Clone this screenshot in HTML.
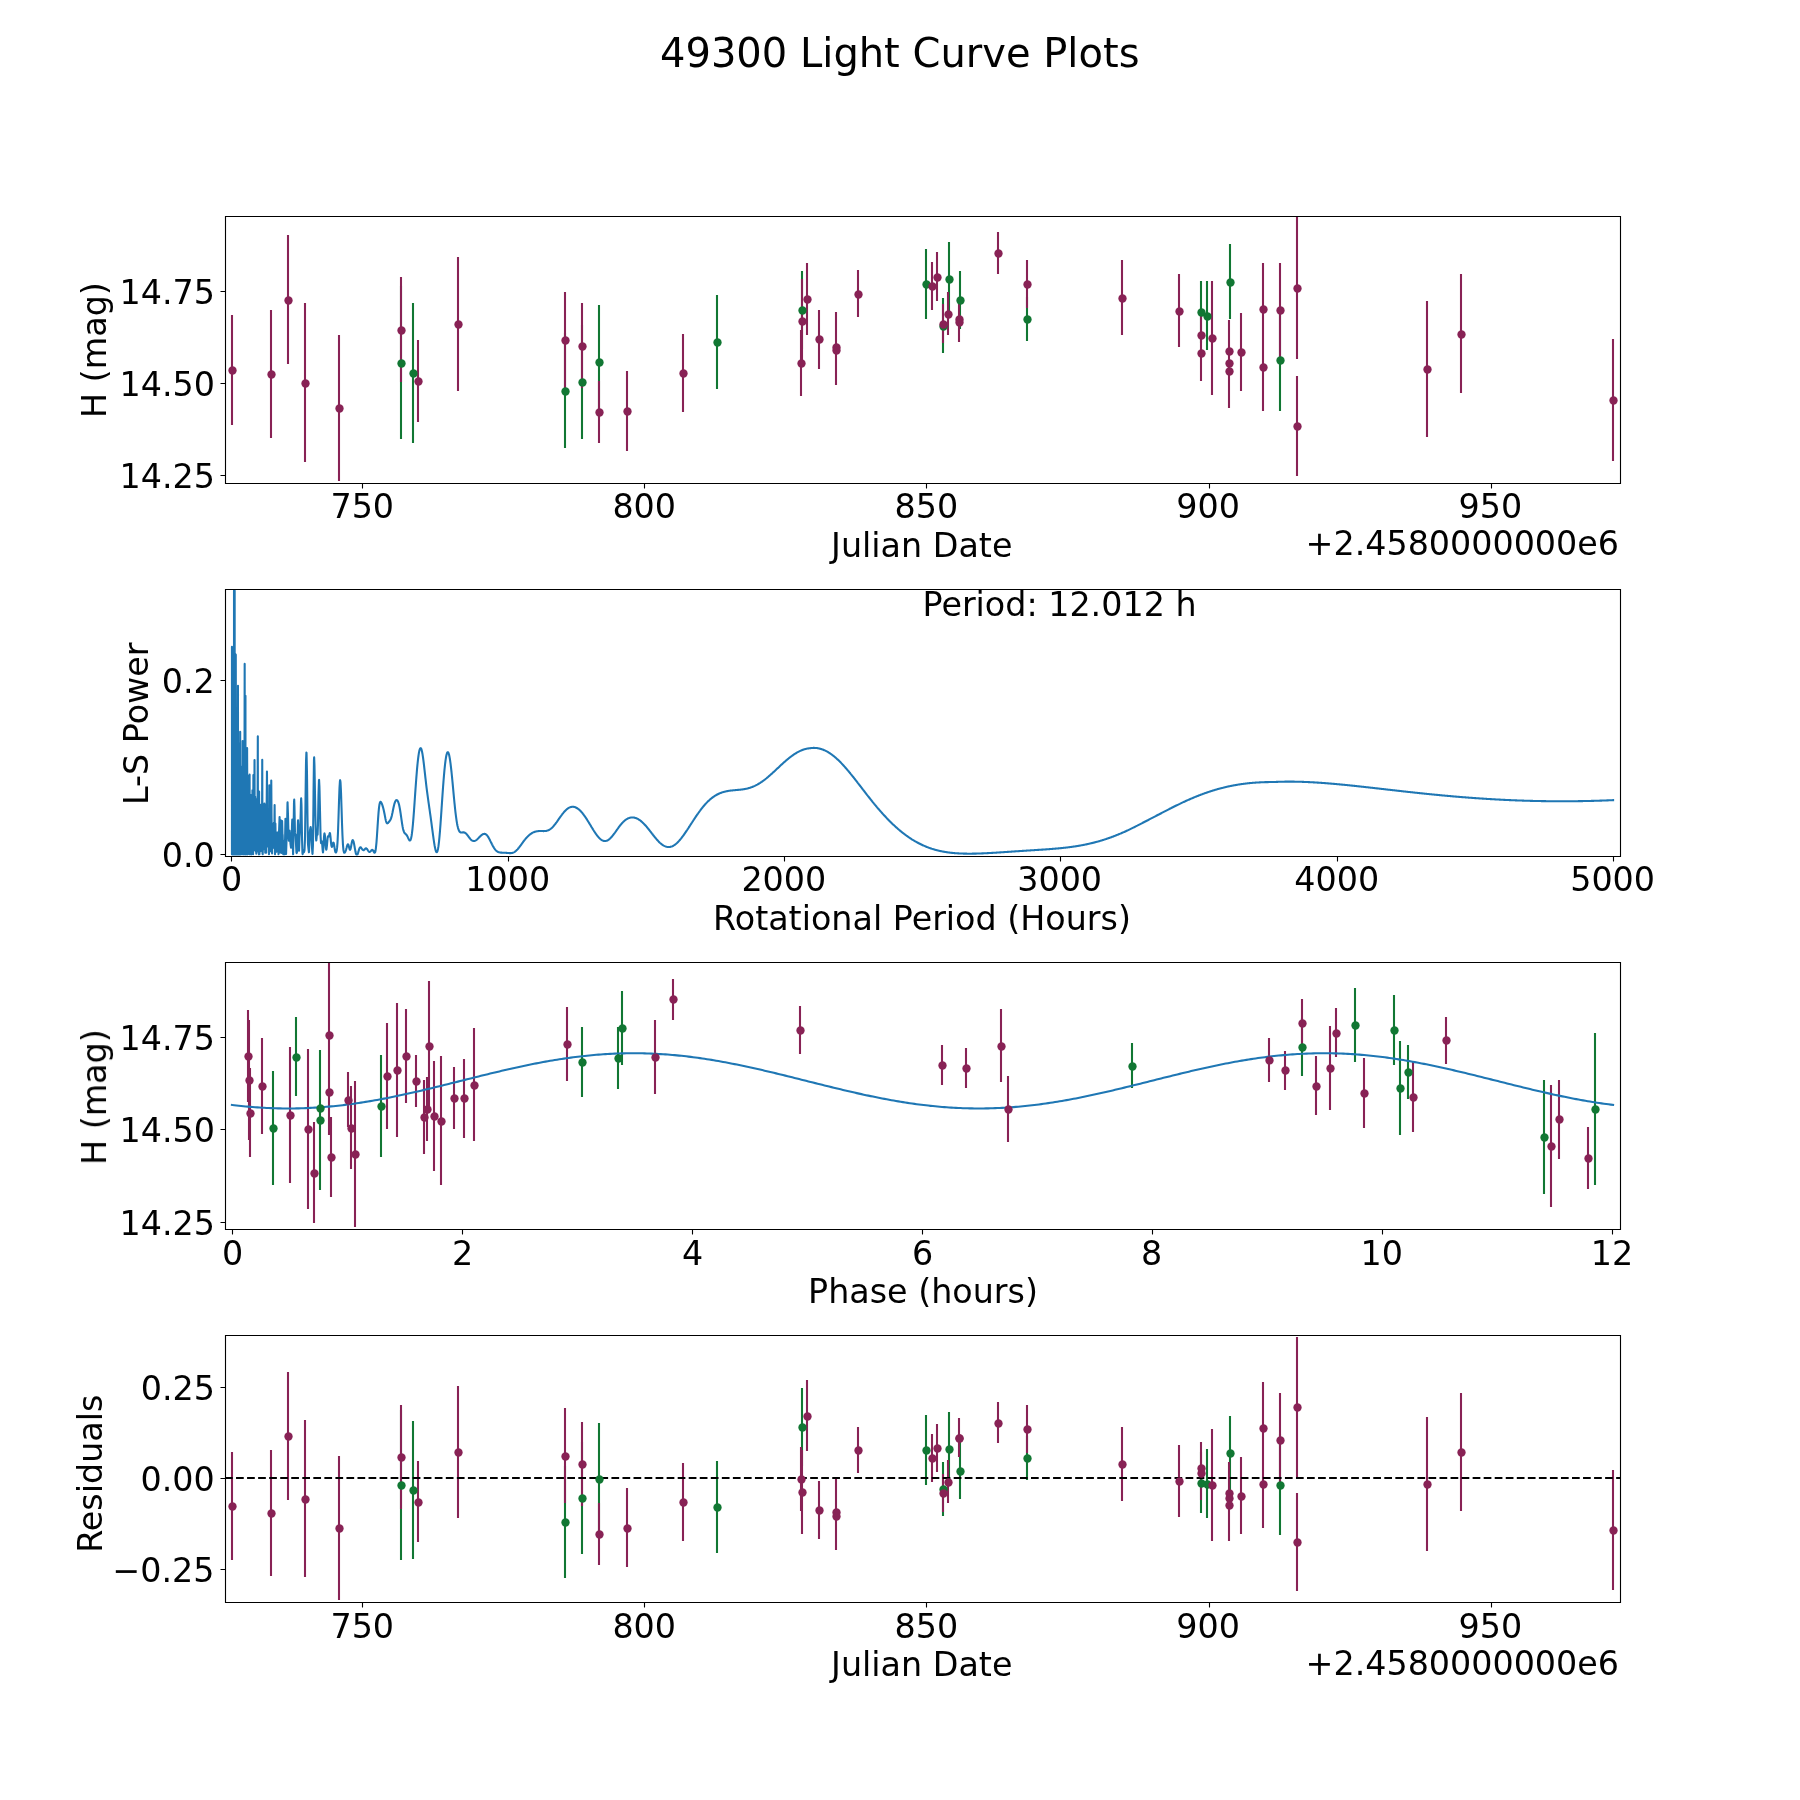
<!DOCTYPE html>
<html><head><meta charset="utf-8"><title>49300 Light Curve Plots</title>
<style>html,body{margin:0;padding:0;background:#fff;width:1800px;height:1800px;overflow:hidden}svg{display:block}</style>
</head><body>
<svg width="1800" height="1800" viewBox="0 0 1800 1800">
<style>text{font-family:"DejaVu Sans",sans-serif}</style>
<rect width="1800" height="1800" fill="#fff"/>
<defs><clipPath id="c0"><rect x="225" y="216" width="1395" height="267"/></clipPath><clipPath id="c1"><rect x="225" y="589" width="1395" height="267"/></clipPath><clipPath id="c2"><rect x="225" y="962" width="1395" height="267"/></clipPath><clipPath id="c3"><rect x="225" y="1335" width="1395" height="267"/></clipPath></defs>
<path d="M362.5 483.5V488.5M644.5 483.5V488.5M926.5 483.5V488.5M1209.5 483.5V488.5M1491.5 483.5V488.5M225.5 475.5H220.5M225.5 383.5H220.5M225.5 291.5H220.5" stroke="#000" stroke-width="1.111" fill="none"/>
<path d="M401 439V286M413 443V303M565 448V333M582 439V325M599 418V305M717 389V295M802 349V271M926 319V249M949 316V242M943 353V298M960 329V271M1027 341V297M1201 343V281M1207 350V281M1230 319V244M1280 411V308" stroke="#117733" stroke-width="2.083" fill="none" clip-path="url(#c0)"/>
<path d="M232 425V315M271 438V310M288 364V235M305 462V303M339 481V335M401 382V277M418 422V340M458 391V257M565 388V292M582 388V303M599 443V381M627 451V371M683 412V334M802 364V279M801 396V330M807 335V263M819 369V310M836 382V312M836 385V315M858 317V270M932 310V262M937 301V252M948 335V292M943 343V304M959 338V299M959 342V302M998 274V232M1027 308V260M1122 335V260M1179 347V274M1201 361V309M1201 381V326M1212 395V281M1229 382V320M1229 395V331M1229 408V334M1241 391V313M1263 356V263M1263 411V322M1280 357V263M1297 359V217M1297 476V376M1427 437V301M1461 393V274M1613 461V339" stroke="#882255" stroke-width="2.083" fill="none" clip-path="url(#c0)"/>
<g fill="#117733" clip-path="url(#c0)"><circle cx="401.5" cy="363.5" r="4.167"/><circle cx="413.5" cy="373.5" r="4.167"/><circle cx="565.5" cy="391.5" r="4.167"/><circle cx="582.5" cy="382.5" r="4.167"/><circle cx="599.5" cy="362.5" r="4.167"/><circle cx="717.5" cy="342.5" r="4.167"/><circle cx="802.5" cy="310.5" r="4.167"/><circle cx="926.5" cy="284.5" r="4.167"/><circle cx="949.5" cy="279.5" r="4.167"/><circle cx="943.5" cy="326.5" r="4.167"/><circle cx="960.5" cy="300.5" r="4.167"/><circle cx="1027.5" cy="319.5" r="4.167"/><circle cx="1201.5" cy="312.5" r="4.167"/><circle cx="1207.5" cy="316.5" r="4.167"/><circle cx="1230.5" cy="282.5" r="4.167"/><circle cx="1280.5" cy="360.5" r="4.167"/></g>
<g fill="#882255" clip-path="url(#c0)"><circle cx="232.5" cy="370.5" r="4.167"/><circle cx="271.5" cy="374.5" r="4.167"/><circle cx="288.5" cy="300.5" r="4.167"/><circle cx="305.5" cy="383.5" r="4.167"/><circle cx="339.5" cy="408.5" r="4.167"/><circle cx="401.5" cy="330.5" r="4.167"/><circle cx="418.5" cy="381.5" r="4.167"/><circle cx="458.5" cy="324.5" r="4.167"/><circle cx="565.5" cy="340.5" r="4.167"/><circle cx="582.5" cy="346.5" r="4.167"/><circle cx="599.5" cy="412.5" r="4.167"/><circle cx="627.5" cy="411.5" r="4.167"/><circle cx="683.5" cy="373.5" r="4.167"/><circle cx="802.5" cy="321.5" r="4.167"/><circle cx="801.5" cy="363.5" r="4.167"/><circle cx="807.5" cy="299.5" r="4.167"/><circle cx="819.5" cy="339.5" r="4.167"/><circle cx="836.5" cy="347.5" r="4.167"/><circle cx="836.5" cy="350.5" r="4.167"/><circle cx="858.5" cy="294.5" r="4.167"/><circle cx="932.5" cy="286.5" r="4.167"/><circle cx="937.5" cy="277.5" r="4.167"/><circle cx="948.5" cy="314.5" r="4.167"/><circle cx="943.5" cy="324.5" r="4.167"/><circle cx="959.5" cy="319.5" r="4.167"/><circle cx="959.5" cy="322.5" r="4.167"/><circle cx="998.5" cy="253.5" r="4.167"/><circle cx="1027.5" cy="284.5" r="4.167"/><circle cx="1122.5" cy="298.5" r="4.167"/><circle cx="1179.5" cy="311.5" r="4.167"/><circle cx="1201.5" cy="335.5" r="4.167"/><circle cx="1201.5" cy="353.5" r="4.167"/><circle cx="1212.5" cy="338.5" r="4.167"/><circle cx="1229.5" cy="351.5" r="4.167"/><circle cx="1229.5" cy="363.5" r="4.167"/><circle cx="1229.5" cy="371.5" r="4.167"/><circle cx="1241.5" cy="352.5" r="4.167"/><circle cx="1263.5" cy="309.5" r="4.167"/><circle cx="1263.5" cy="367.5" r="4.167"/><circle cx="1280.5" cy="310.5" r="4.167"/><circle cx="1297.5" cy="288.5" r="4.167"/><circle cx="1297.5" cy="426.5" r="4.167"/><circle cx="1427.5" cy="369.5" r="4.167"/><circle cx="1461.5" cy="334.5" r="4.167"/><circle cx="1613.5" cy="400.5" r="4.167"/></g>
<path d="M225.5 483.5V216.5M1620.5 483.5V216.5M225.5 483.5H1620.5M225.5 216.5H1620.5" stroke="#000" stroke-width="1.111" stroke-linecap="square" fill="none"/>
<path d="M231.5 856.5V861.5M508.5 856.5V861.5M784.5 856.5V861.5M1060.5 856.5V861.5M1337.5 856.5V861.5M1613.5 856.5V861.5M225.5 854.5H220.5M225.5 680.5H220.5" stroke="#000" stroke-width="1.111" fill="none"/>
<path d="M231.91 831.45 231.94 854.37 231.94 646.87 232 848.68 232 846.91 232.01 682.59 232.14 854.37 232.5 808.46 232.5 808.65 232.7 854.37 232.78 677.18 233 844.15 233 845.44 233.45 650.05 233.48 854.36 233.5 853.41 233.5 851.88 233.81 854.37 233.84 659.45 234 823.73 234 824.74 234.01 590.47 234.14 854.37 234.5 854.29 234.5 854.07 234.67 590.47 234.68 854.34 235 845.58 235 846.55 235.01 721.91 235.02 854.35 235.5 833.72 235.5 829.4 235.61 854.36 235.78 654.66 236 806.35 236 800.16 236.31 854.34 236.4 713.7 236.5 847.18 236.5 846.42 236.64 720.59 236.78 854.37 237 836.19 237 835.54 237.1 733.29 237.15 854.36 237.5 804.4 237.5 803.76 237.77 854.37 237.99 685.72 238 814.89 238 820.33 238.18 743.11 238.36 854.37 238.5 845.43 238.5 845.67 238.78 753.96 238.8 854.37 239 849.08 239 848.27 239.03 762.02 239.24 854.36 239.5 832.36 239.5 827.87 239.52 755.8 239.92 854.34 240 848.66 240 850.83 240.18 731.85 240.36 854.35 240.5 853.28 240.5 852.8 240.85 780.45 240.93 854.26 241 787.65 241 785.33 241.34 854.03 241.49 767.17 241.5 789.58 241.5 797.86 241.69 854.21 241.79 778.25 242 832.06 242 835.01 242.29 766.31 242.36 853.95 242.5 824.64 242.5 830.06 242.61 740.92 242.93 854.25 243 804.93 243 803.69 243.15 781.24 243.32 854.35 243.5 820.86 243.5 816.53 243.73 793.2 243.8 853.76 244 830.73 244 831.98 244.38 853.82 244.5 772.12 244.5 765.44 244.67 663.88 244.85 854.21 245 849.81 245 850.95 245.08 854.36 245.46 695.85 245.5 815.66 245.5 826.24 245.59 748.96 245.93 854.37 246 850.48 246 851.24 246.43 818.02 246.49 854.23 246.5 853.3 246.5 852.88 246.54 854.26 246.95 787.39 247 845.63 247 846.53 247.11 748.1 247.5 854.36 247.5 853.97 247.69 803.37 248 852.02 248 851.56 248.26 775.95 248.5 823.51 248.5 823.05 248.82 853.43 248.89 822.74 249 851.91 249 851.99 249.2 816.23 249.34 854.31 249.5 852.41 249.5 852.01 249.6 774.59 249.77 854.29 250 838.52 250 839.27 250.09 853.77 250.43 794.86 250.5 850.05 250.51 852.61 250.52 854.3 250.59 824.79 251 846.53 251 842.66 251.16 809.53 251.48 854.36 251.49 852.74 251.5 850.68 251.86 807.11 252 827.91 252 827.01 252.2 849.71 252.43 790.23 252.5 824.11 252.5 826.28 252.79 809.4 253 838.68 253.01 839.8 253.08 854.28 253.4 775.06 253.5 820.87 253.51 824.4 253.66 849.81 253.87 780.31 254 825.91 254 827.01 254.32 847.14 254.49 768.71 254.5 764.55 254.53 759.96 254.74 849.97 255 831.32 255.01 832.35 255.2 796.81 255.39 849.21 255.5 835.96 255.51 834.88 255.65 851.53 255.93 815.99 256 837.91 256.01 841.69 256.17 840.98 256.28 853.83 256.49 845.95 256.5 844.66 256.71 799.07 256.99 847.62 257 848.28 257.16 804.87 257.34 851.57 257.5 828.68 257.51 824.6 257.82 736.35 257.94 850.68 257.99 836.27 258 829.74 258.09 801.17 258.39 851.84 258.49 824.66 258.5 820.66 258.85 854.34 259 810.02 259.01 805.42 259.08 791.59 259.43 854.25 259.49 851.16 259.5 850.25 259.99 829.83 260 825.4 260.09 808.14 260.49 851.33 260.51 850.84 260.66 829.96 260.99 833.8 261 830.44 261.13 804.53 261.4 840.76 261.49 835.23 261.5 833.44 261.67 815.54 261.92 843.16 261.99 838.55 262 836.25 262.24 759.82 262.49 852.23 262.51 853.44 262.71 854.2 262.92 844.37 263 847.21 263.01 848.05 263.06 849.25 263.46 820.42 263.49 821 263.5 821.88 263.71 846.4 263.98 816.82 263.99 816.97 264.01 817.44 264.17 825.28 264.45 803.42 264.5 806.73 264.52 809.46 264.7 849.43 264.95 804.87 264.99 806.56 265 808.48 265.24 852.7 265.49 832.76 265.51 832.41 265.52 832.36 265.99 840.91 266.01 841.73 266.22 852.68 266.48 828.29 266.5 825.96 266.95 771.58 266.99 773.8 267.01 777.01 267.28 846.52 267.5 826.66 267.52 826.35 267.66 832.68 267.9 813.95 268 819.09 268.02 820.23 268.49 839.1 268.51 838.84 268.7 829.15 268.97 854.13 268.99 853.66 269.02 852.19 269.34 785.4 269.49 797.39 269.51 799.29 269.98 849.22 270 850.93 270.03 851.57 270.37 806.47 270.48 815.26 270.51 818.76 270.71 841.78 271 812.31 271.02 808.4 271.26 780.61 271.48 809.4 271.5 814.09 271.99 849.14 272.02 851.36 272.07 853.49 272.47 827.57 272.5 828 272.52 828.85 272.73 837.58 272.99 834.76 273.01 835.33 273.15 838.59 273.49 823.62 273.52 823.87 273.68 828.54 273.9 822.76 273.98 826.41 274.01 828.78 274.25 848.32 274.48 819.73 274.5 814.91 274.62 805.12 274.99 854.18 275.02 854.12 275.39 823.58 275.48 827.66 275.51 830.02 275.72 842.23 275.99 832.98 276.02 832.38 276.05 832.17 276.47 851.29 276.5 851.69 276.53 851.76 277 840.04 277.03 839.82 277.09 839.71 277.48 845.73 277.51 845.8 277.99 832.4 278.03 832.61 278.49 854.27 278.53 853.79 279 832.48 279.03 832.14 279.48 819.74 279.52 818.37 279.59 817.04 279.98 841.86 280.01 845.12 280.16 852.37 280.48 827.54 280.52 824.6 280.63 820.09 281 842.16 281.03 843.87 281.48 853.06 281.52 852.93 281.98 824.29 282.02 822.43 282.1 821.14 282.49 835.09 282.53 835.19 282.65 834.78 282.97 845.38 283.01 847.35 283.25 854.32 283.49 848.98 283.54 847.25 283.78 840.83 283.99 845.21 284.03 846.64 284.5 854.18 284.54 854.23 284.58 854.25 284.97 845.86 285.01 843.18 285.45 818.71 285.49 819.18 285.54 820.47 285.99 852.23 286.03 853.5 286.08 854.04 286.49 841.56 286.53 839.81 286.99 828.92 287.04 827.41 287.46 804.22 287.51 802.98 287.56 802.39 287.99 814.83 288.04 816.82 288.48 835.04 288.53 836.58 288.83 840.77 288.98 839.74 289.03 839.04 289.48 831.2 289.53 830.88 289.58 830.76 289.99 836.3 290.05 837.39 290.47 843.7 290.52 844.2 291 847.53 291.05 847.66 291.1 847.72 291.48 844.86 291.54 843.74 291.98 826.69 292.03 824.46 292.26 819.65 292.48 822.83 292.54 824.87 292.99 851.41 293.05 853.38 293.11 854.31 293.45 839.19 293.51 834.61 293.98 803.66 294.04 801.68 294.22 799.58 294.46 806.49 294.52 809.63 294.94 830.83 295 832.38 295.25 834.64 295.5 834.52 295.56 834.8 296 843.56 296.06 845.29 296.44 852.16 296.5 852.6 296.7 853.09 296.96 852.13 297.02 851.52 297.48 840.16 297.54 837.45 297.94 822.14 298.01 820.85 298.08 820.23 298.48 832.51 298.55 836.31 298.96 850.81 299.03 850.66 299.45 839.93 299.52 838.01 299.94 831.16 300.01 830.43 300.44 822.2 300.51 819.67 300.95 802.26 301.02 800.3 301.17 798.4 301.46 804.38 301.54 807.87 301.99 835.8 302.06 839.96 302.44 852.65 302.52 853.57 302.67 854.16 302.98 852.52 303.05 851.97 303.44 850.66 303.52 850.78 304 852.11 304.08 852.1 304.48 850.28 304.56 849.46 304.96 839.55 305.05 835.63 305.46 804.69 305.54 797.26 305.96 765.63 306.04 761.33 306.38 752.58 306.46 752.61 306.55 753.57 306.98 772.73 307.07 779.2 307.5 817.14 307.59 824.12 307.94 842.62 308.03 844.73 308.47 848.69 308.56 849.45 308.92 852.28 309.02 851.93 309.47 839.97 309.56 837.15 309.94 830.69 310.03 830.03 310.5 827.39 310.59 827.06 310.69 827 310.97 829.13 311.07 830.58 311.45 837.99 311.55 839.87 311.94 846.85 312.04 848.51 312.43 853.68 312.53 854.03 312.93 845.82 313.03 840.22 313.44 803.17 313.54 792.27 313.95 760.86 314.05 758 314.15 757.27 314.47 765.3 314.57 770.28 314.99 793.75 315.1 799.62 315.41 816.23 315.52 821.29 315.95 836.92 316.06 839.04 316.27 840.55 316.49 838.93 316.6 837.46 316.93 833.55 317.04 833.11 317.49 834.76 317.6 834.4 317.94 825.43 318.05 819.79 318.39 799.98 318.51 793.9 318.97 780.1 319.08 779.91 319.43 786.5 319.55 790.53 319.9 805.87 320.02 811.62 320.5 832.93 320.62 836.76 320.98 842.78 321.1 843.17 321.47 841.95 321.59 841.43 321.71 841.15 321.96 841.72 322.08 842.67 322.46 847.56 322.58 849.37 322.96 852.36 323.09 852.02 323.47 847.07 323.6 844.63 323.98 837.62 324.11 835.85 324.37 833.69 324.5 833.37 324.9 835.3 325.03 836.75 325.43 842.33 325.56 844.23 325.97 848.59 326.24 849.72 326.51 849.21 326.92 845.89 327.06 844.33 327.47 839.53 327.61 838.2 327.89 836.44 328.32 836.07 328.74 836.47 329.03 835.92 329.47 833.93 329.76 832.98 330.05 833.36 330.49 836.81 330.64 838.45 330.94 841.84 331.09 843.36 331.39 845.7 331.84 846.92 332.15 846.39 332.46 845.24 332.61 844.58 332.92 843.38 333.23 842.65 333.55 842.7 333.86 843.64 334.02 844.42 334.34 846.4 334.5 847.48 334.98 850.44 335.15 851.18 335.47 852.17 335.8 852.52 336.13 852.3 336.46 851.48 336.63 850.81 336.96 848.69 337.13 847.15 337.47 842.81 337.64 839.89 337.98 832.43 338.15 827.91 338.5 817.58 338.67 812 338.85 806.35 339.02 800.8 339.45 789 339.51 787.56 339.96 780.94 340.02 780.54 340.15 780.18 340.47 781.86 340.53 782.63 340.98 791.51 341.04 793.11 341.49 806.55 341.53 807.82 342 822.74 342.06 824.64 342.44 834.82 342.51 836.29 342.95 844.57 343.01 845.47 343.46 850.04 343.52 850.47 343.97 852.36 344.29 852.8 344.8 852.61 345.05 852.26 345.5 851.33 345.56 851.16 345.95 850.05 346.01 849.85 346.45 848.26 346.52 848.02 346.96 846.36 347.03 846.14 347.47 844.83 347.79 844.35 348.05 844.32 348.49 845.12 348.56 845.31 348.94 846.74 349 847.01 349.45 848.77 349.51 848.98 349.96 849.85 350.02 849.88 350.47 849.26 350.53 849.07 350.98 847.09 351.04 846.75 351.49 844.18 351.55 843.82 352 841.64 352.06 841.4 352.44 840.38 352.76 840.14 353.02 840.33 353.46 841.38 353.53 841.59 353.97 843.45 354.04 843.76 354.48 846.15 354.54 846.51 354.99 849.09 355.05 849.45 355.44 851.52 355.5 851.84 355.95 853.72 356.26 854.37 356.77 854.37 357.28 854.37 357.54 854.34 357.98 853.11 358.05 852.91 358.49 851.4 358.56 851.18 358.94 849.9 359 849.69 359.45 848.46 359.51 848.31 359.96 847.54 360.28 847.28 360.79 847.32 361.04 847.53 361.49 848.09 361.55 848.19 362 848.89 362.06 848.99 362.44 849.55 362.76 849.91 363.27 850.2 363.78 850.12 364.29 849.72 364.8 849.17 365.25 848.72 365.76 848.41 366.27 848.41 366.78 848.75 367.03 849.03 367.48 849.64 367.54 849.74 367.99 850.43 368.05 850.53 368.5 851.17 368.75 851.48 369.26 851.87 369.77 851.92 370.28 851.62 370.53 851.36 370.98 850.82 371.04 850.74 371.49 850.21 371.81 849.94 372.25 849.81 372.76 850.12 373.02 850.45 373.46 851.24 373.53 851.36 373.97 852.21 374.29 852.67 374.8 852.77 375.06 852.39 375.44 851.09 375.5 850.78 375.95 847.78 376.01 847.23 376.46 842.58 376.52 841.8 376.97 835.74 377.03 834.8 377.48 827.93 377.54 826.93 377.99 820.08 378.05 819.15 378.5 813.13 378.56 812.36 378.94 808.32 379.01 807.74 379.45 804.52 379.52 804.18 379.96 802.46 380.28 801.9 380.79 801.89 381.04 802.18 381.49 802.98 381.55 803.12 381.94 804.03 382 804.2 382.45 805.44 382.51 805.63 382.96 807.07 383.02 807.29 383.47 808.98 383.53 809.25 383.97 811.22 384.04 811.52 384.48 813.75 384.55 814.08 384.99 816.4 385.06 816.73 385.44 818.64 385.5 818.95 385.95 820.85 386.01 821.08 386.46 822.41 386.52 822.56 386.97 823.22 387.29 823.36 387.8 823.14 388.05 822.89 388.5 822.37 388.75 822.05 389.01 821.74 389.45 821.21 389.52 821.13 389.96 820.55 390.03 820.46 390.47 819.71 390.54 819.58 390.98 818.52 391.05 818.34 391.49 816.91 391.56 816.67 391.94 815.14 392 814.86 392.45 812.8 392.51 812.49 392.96 810.28 393.02 809.96 393.47 807.78 393.53 807.49 393.98 805.51 394.04 805.25 394.49 803.59 394.55 803.38 395 802.09 395.06 801.93 395.44 801.12 395.5 801.01 395.95 800.41 396.27 800.17 396.78 800.09 397.29 800.39 397.54 800.69 397.99 801.46 398.05 801.6 398.5 802.76 398.56 802.96 398.94 804.31 399.01 804.56 399.45 806.55 399.52 806.87 399.96 809.3 400.03 809.68 400.47 812.49 400.54 812.92 400.98 815.98 401.05 816.43 401.49 819.58 401.56 820.02 401.94 822.62 402 823.04 402.45 825.78 402.51 826.14 402.96 828.43 403.02 828.72 403.47 830.49 403.53 830.71 403.98 831.96 404.04 832.1 404.49 832.92 404.81 833.33 405.25 833.74 405.76 834.14 406.27 834.61 406.53 834.9 406.97 835.56 407.03 835.67 407.48 836.51 407.54 836.64 407.99 837.61 408.05 837.76 408.44 838.61 408.5 838.74 408.95 839.62 409.01 839.73 409.46 840.33 409.77 840.53 410.28 840.33 410.54 839.94 410.98 838.71 411.05 838.48 411.49 836.37 411.56 836.01 411.94 833.46 412 832.97 412.45 829.12 412.51 828.51 412.96 823.8 413.02 823.07 413.47 817.63 413.53 816.81 413.98 810.84 414.04 809.96 414.49 803.65 414.55 802.73 415 796.3 415.06 795.38 415.44 789.91 415.51 789.01 415.95 782.82 416.02 781.96 416.46 776.12 416.53 775.32 416.97 769.94 417.04 769.21 417.48 764.39 417.55 763.75 417.99 759.57 418.06 759.02 418.44 756 418.5 755.54 418.95 752.7 419.01 752.35 419.46 750.27 419.52 750.03 419.97 748.74 420.28 748.24 420.79 748.16 421.05 748.46 421.49 749.5 421.56 749.7 421.94 751.17 422 751.46 422.45 753.78 422.51 754.16 422.96 757.06 423.02 757.51 423.47 760.87 423.53 761.38 423.98 765.08 424.04 765.62 424.49 769.52 424.55 770.09 425 774.07 425.06 774.64 425.44 778.04 425.51 778.6 425.95 782.48 426.02 783.03 426.46 786.76 426.53 787.28 426.97 790.84 427.04 791.34 427.48 794.74 427.55 795.21 427.99 798.47 428.06 798.93 428.44 801.65 428.5 802.1 428.95 805.21 429.01 805.66 429.46 808.76 429.52 809.21 429.97 812.34 430.03 812.79 430.48 815.97 430.54 816.43 430.99 819.68 431.05 820.15 431.5 823.46 431.56 823.94 431.94 826.81 432.01 827.3 432.45 830.66 432.52 831.14 432.96 834.46 433.02 834.93 433.47 838.15 433.53 838.6 433.98 841.65 434.04 842.06 434.49 844.83 434.55 845.21 434.94 847.29 435 847.61 435.45 849.59 435.51 849.83 435.96 851.24 436.02 851.39 436.46 852.11 436.78 852.2 437.04 852 437.48 851.04 437.55 850.84 437.99 848.95 438.06 848.61 438.44 846.23 438.5 845.77 438.95 842.12 439.01 841.53 439.46 837.01 439.52 836.31 439.97 831.04 440.03 830.24 440.48 824.36 440.54 823.49 440.99 817.17 441.05 816.25 441.5 809.69 441.56 808.74 441.94 803.06 442.01 802.12 442.45 795.58 442.52 794.66 442.96 788.36 443.03 787.49 443.47 781.56 443.54 780.75 443.98 775.3 444.05 774.56 444.49 769.68 444.55 769.03 444.94 765.34 445 764.76 445.45 761.09 445.51 760.61 445.96 757.64 446.02 757.27 446.47 755.02 446.53 754.75 446.98 753.25 447.04 753.08 447.49 752.32 447.8 752.18 448.06 752.3 448.44 752.87 448.5 753.01 448.95 754.33 449.01 754.57 449.46 756.57 449.52 756.9 449.97 759.51 450.03 759.93 450.48 763.1 450.54 763.59 450.99 767.26 451.05 767.82 451.5 771.9 451.56 772.51 451.94 776.27 452.01 776.91 452.45 781.52 452.52 782.19 452.96 786.95 453.03 787.63 453.47 792.42 453.54 793.11 453.98 797.83 454.05 798.5 454.49 803.06 454.56 803.7 454.94 807.4 455 808 455.45 812.02 455.51 812.57 455.96 816.21 456.02 816.7 456.47 819.9 456.53 820.32 456.98 823.07 457.04 823.43 457.49 825.71 457.55 826.01 458 827.84 458.06 828.07 458.44 829.31 458.51 829.49 458.95 830.58 459.02 830.71 459.46 831.47 459.78 831.86 460.29 832.26 460.8 832.46 461.24 832.52 461.75 832.49 462.26 832.43 462.77 832.36 463.28 832.33 463.79 832.37 464.3 832.49 464.75 832.66 465.26 832.96 465.77 833.35 466.28 833.82 466.79 834.37 467.04 834.67 467.49 835.23 467.55 835.31 468 835.9 468.25 836.25 468.51 836.59 468.95 837.2 469.02 837.28 469.46 837.88 469.53 837.96 469.97 838.52 470.29 838.9 470.8 839.45 471.25 839.88 471.76 840.29 472.27 840.62 472.77 840.85 473.28 840.99 473.79 841.04 474.3 841 474.75 840.89 475.26 840.7 475.77 840.43 476.28 840.1 476.79 839.71 477.3 839.28 477.81 838.8 478.25 838.37 478.76 837.85 479.27 837.33 479.78 836.8 480.29 836.29 480.8 835.79 481.25 835.39 481.76 834.96 482.27 834.59 482.78 834.29 483.29 834.05 483.79 833.91 484.3 833.85 484.75 833.88 485.26 834.02 485.77 834.27 486.28 834.63 486.79 835.11 487.04 835.39 487.49 835.94 487.55 836.02 487.94 836.57 488 836.66 488.45 837.37 488.51 837.48 488.95 838.26 489.02 838.37 489.46 839.21 489.53 839.33 489.97 840.21 490.04 840.34 490.48 841.24 490.55 841.37 490.99 842.29 491.06 842.42 491.44 843.21 491.5 843.34 491.95 844.23 492.01 844.36 492.46 845.23 492.52 845.35 492.97 846.18 493.03 846.29 493.48 847.07 493.54 847.18 493.99 847.89 494.05 847.99 494.5 848.65 494.75 849 495.01 849.33 495.45 849.86 495.77 850.21 496.28 850.7 496.79 851.12 497.3 851.48 497.75 851.74 498.26 851.98 498.76 852.18 499.27 852.34 499.78 852.45 500.29 852.54 500.8 852.6 501.25 852.63 501.76 852.66 502.27 852.68 502.78 852.69 503.29 852.7 503.8 852.71 504.31 852.72 504.75 852.74 505.26 852.77 505.77 852.8 506.28 852.84 506.79 852.88 507.3 852.93 507.75 852.98 508.26 853.03 508.77 853.07 509.28 853.11 509.79 853.13 510.29 853.14 510.8 853.13 511.25 853.09 511.76 853.02 512.27 852.92 512.78 852.78 513.29 852.59 513.8 852.36 514.31 852.09 514.75 851.81 515.26 851.45 515.77 851.05 516.28 850.6 516.79 850.1 517.3 849.57 517.75 849.08 518 848.78 518.45 848.25 518.51 848.17 518.96 847.61 519.02 847.53 519.47 846.96 519.53 846.87 519.98 846.28 520.04 846.2 520.49 845.59 520.55 845.51 521 844.89 521.06 844.81 521.44 844.28 521.51 844.19 521.95 843.57 522.02 843.48 522.46 842.87 522.53 842.78 522.97 842.17 523.04 842.09 523.48 841.49 523.54 841.4 523.99 840.81 524.25 840.48 524.5 840.15 524.95 839.59 525.01 839.51 525.46 838.96 525.52 838.88 525.97 838.36 526.28 837.99 526.79 837.42 527.3 836.88 527.75 836.43 528.26 835.93 528.77 835.46 529.28 835.02 529.79 834.6 530.3 834.21 530.81 833.85 531.25 833.55 531.76 833.24 532.27 832.94 532.78 832.67 533.29 832.43 533.8 832.2 534.25 832.03 534.76 831.84 535.27 831.68 535.78 831.54 536.28 831.42 536.79 831.32 537.3 831.23 537.75 831.17 538.26 831.11 538.77 831.08 539.28 831.05 539.79 831.04 540.3 831.03 540.81 831.04 541.25 831.04 541.76 831.06 542.27 831.07 542.78 831.08 543.29 831.09 543.8 831.09 544.25 831.08 544.76 831.05 545.27 831.01 545.78 830.95 546.29 830.86 546.8 830.75 547.31 830.61 547.75 830.46 548.26 830.26 548.77 830.03 549.28 829.76 549.79 829.45 550.3 829.11 550.75 828.78 551.25 828.37 551.76 827.92 552.27 827.44 552.78 826.93 553.29 826.38 553.8 825.8 554.25 825.27 554.5 824.96 554.95 824.4 555.01 824.32 555.46 823.74 555.52 823.66 555.97 823.06 556.03 822.98 556.48 822.37 556.54 822.28 556.99 821.66 557.05 821.57 557.5 820.93 557.56 820.84 557.94 820.3 558.01 820.2 558.45 819.56 558.52 819.47 558.96 818.82 559.03 818.73 559.47 818.09 559.54 818 559.98 817.36 560.05 817.27 560.49 816.63 560.56 816.54 560.94 816.01 561 815.92 561.45 815.31 561.51 815.22 561.96 814.62 562.02 814.53 562.47 813.95 562.53 813.87 562.98 813.3 563.04 813.22 563.49 812.67 563.55 812.59 564 812.07 564.25 811.77 564.76 811.21 565.27 810.68 565.78 810.17 566.29 809.7 566.8 809.26 567.31 808.85 567.75 808.53 568.26 808.19 568.77 807.88 569.28 807.62 569.79 807.39 570.3 807.19 570.75 807.06 571.26 806.93 571.77 806.85 572.28 806.8 572.79 806.79 573.3 806.82 573.81 806.88 574.25 806.97 574.76 807.1 575.27 807.27 575.78 807.48 576.29 807.72 576.8 807.99 577.24 808.26 577.75 808.6 578.26 808.97 578.77 809.37 579.28 809.81 579.79 810.27 580.3 810.77 580.75 811.23 581.26 811.78 581.77 812.36 582.02 812.66 582.47 813.2 582.53 813.27 582.98 813.83 583.04 813.92 583.49 814.5 583.55 814.58 584 815.18 584.06 815.27 584.44 815.8 584.51 815.89 584.95 816.52 585.02 816.62 585.46 817.27 585.53 817.36 585.97 818.03 586.04 818.12 586.48 818.81 586.55 818.9 586.99 819.6 587.06 819.7 587.44 820.3 587.5 820.4 587.95 821.11 588.01 821.22 588.46 821.94 588.52 822.04 588.97 822.77 589.03 822.87 589.48 823.61 589.54 823.71 589.99 824.45 590.05 824.55 590.49 825.29 590.56 825.4 590.94 826.03 591 826.13 591.45 826.87 591.51 826.98 591.96 827.71 592.02 827.81 592.47 828.54 592.53 828.64 592.98 829.37 593.04 829.47 593.49 830.18 593.55 830.28 594 830.98 594.06 831.08 594.44 831.67 594.51 831.77 594.95 832.44 595.02 832.54 595.46 833.2 595.53 833.29 595.97 833.93 596.04 834.02 596.48 834.64 596.55 834.72 596.99 835.32 597.25 835.65 597.5 835.97 597.95 836.52 598.27 836.89 598.78 837.47 599.29 838 599.8 838.5 600.3 838.96 600.75 839.33 601.26 839.7 601.77 840.04 602.28 840.32 602.79 840.56 603.3 840.75 603.74 840.88 604.25 840.97 604.76 841.01 605.27 841.01 605.78 840.95 606.29 840.84 606.8 840.67 607.25 840.49 607.76 840.24 608.27 839.93 608.78 839.58 609.29 839.19 609.8 838.75 610.31 838.28 610.75 837.83 611.26 837.29 611.77 836.71 612.03 836.41 612.47 835.87 612.54 835.79 612.98 835.23 613.05 835.15 613.49 834.57 613.75 834.23 614 833.89 614.45 833.28 614.51 833.19 614.96 832.58 615.02 832.49 615.47 831.86 615.53 831.77 615.98 831.14 616.04 831.05 616.49 830.42 616.55 830.33 616.99 829.7 617.06 829.61 617.44 829.08 617.5 828.99 617.95 828.37 618.01 828.28 618.46 827.66 618.52 827.58 618.97 826.97 619.03 826.89 619.48 826.3 619.54 826.22 619.99 825.64 620.05 825.56 620.5 825 620.75 824.69 621.01 824.38 621.45 823.85 621.77 823.49 622.28 822.92 622.79 822.38 623.3 821.87 623.75 821.44 624.26 820.97 624.77 820.54 625.28 820.13 625.79 819.75 626.3 819.4 626.8 819.08 627.25 818.82 627.76 818.55 628.27 818.31 628.78 818.11 629.29 817.93 629.8 817.77 630.24 817.66 630.75 817.57 631.26 817.5 631.77 817.45 632.28 817.44 632.79 817.45 633.3 817.49 633.75 817.55 634.26 817.64 634.77 817.75 635.28 817.89 635.79 818.06 636.3 818.25 636.81 818.46 637.25 818.67 637.76 818.93 638.27 819.21 638.78 819.52 639.29 819.85 639.8 820.2 640.25 820.53 640.76 820.92 641.26 821.34 641.77 821.77 642.28 822.22 642.79 822.69 643.3 823.18 643.75 823.63 644.26 824.15 644.77 824.69 645.28 825.24 645.79 825.81 646.3 826.4 646.55 826.7 647 827.23 647.25 827.54 647.51 827.85 647.95 828.4 648.02 828.48 648.46 829.03 648.53 829.11 648.97 829.68 649.04 829.76 649.48 830.32 649.55 830.4 649.99 830.98 650.25 831.3 650.5 831.63 650.95 832.21 651.01 832.29 651.46 832.87 651.52 832.95 651.97 833.53 652.03 833.61 652.48 834.18 652.54 834.27 652.99 834.84 653.05 834.92 653.5 835.49 653.75 835.81 654.01 836.13 654.45 836.69 654.51 836.77 654.96 837.32 655.02 837.4 655.47 837.94 655.53 838.02 655.98 838.55 656.3 838.93 656.74 839.45 657.25 840.02 657.76 840.59 658.27 841.13 658.78 841.66 659.29 842.17 659.8 842.66 660.25 843.07 660.76 843.51 661.27 843.94 661.78 844.34 662.29 844.72 662.8 845.06 663.31 845.39 663.75 845.65 664.26 845.92 664.77 846.16 665.28 846.38 665.79 846.56 666.3 846.71 666.75 846.82 667.26 846.92 667.76 846.99 668.27 847.02 668.78 847.03 669.29 847 669.8 846.94 670.25 846.87 670.76 846.75 671.27 846.61 671.78 846.43 672.29 846.23 672.8 845.99 673.31 845.73 673.75 845.47 674.26 845.15 674.77 844.79 675.28 844.42 675.79 844.01 676.3 843.58 676.75 843.18 677.26 842.71 677.77 842.21 678.28 841.69 678.79 841.15 679.29 840.58 679.8 840 680.25 839.47 680.51 839.17 680.95 838.62 681.01 838.54 681.46 837.98 681.52 837.9 681.97 837.32 682.03 837.24 682.48 836.65 682.54 836.57 682.99 835.97 683.24 835.62 683.5 835.27 683.94 834.65 684.01 834.56 684.45 833.92 684.52 833.83 684.96 833.19 685.03 833.1 685.47 832.45 685.54 832.36 685.98 831.7 686.05 831.61 686.49 830.94 686.56 830.85 686.94 830.28 687 830.18 687.45 829.51 687.51 829.41 687.96 828.73 688.02 828.63 688.47 827.95 688.53 827.85 688.98 827.17 689.04 827.07 689.49 826.38 689.55 826.29 690 825.6 690.06 825.5 690.44 824.91 690.51 824.81 690.95 824.12 691.02 824.02 691.46 823.33 691.53 823.23 691.97 822.54 692.03 822.44 692.48 821.75 692.54 821.65 692.99 820.97 693.05 820.87 693.44 820.28 693.5 820.19 693.95 819.51 694.01 819.41 694.46 818.73 694.52 818.64 694.97 817.96 695.03 817.87 695.47 817.2 695.54 817.1 695.98 816.44 696.05 816.35 696.49 815.69 696.56 815.6 696.94 815.04 697 814.95 697.45 814.3 697.51 814.21 697.96 813.57 698.02 813.48 698.47 812.85 698.53 812.76 698.98 812.14 699.04 812.05 699.49 811.44 699.55 811.35 700 810.75 700.25 810.4 700.51 810.06 700.95 809.48 701.02 809.39 701.46 808.81 701.53 808.73 701.97 808.16 702.04 808.08 702.48 807.52 702.55 807.44 702.99 806.89 703.25 806.58 703.5 806.28 703.95 805.75 704.27 805.38 704.78 804.79 705.28 804.22 705.79 803.66 706.3 803.11 706.75 802.64 707.26 802.12 707.77 801.61 708.28 801.12 708.79 800.63 709.3 800.16 709.74 799.76 710.25 799.32 710.76 798.89 711.27 798.47 711.78 798.06 712.29 797.67 712.8 797.29 713.25 796.97 713.76 796.62 714.27 796.27 714.78 795.94 715.29 795.62 715.8 795.32 716.31 795.02 716.75 794.78 717.26 794.5 717.77 794.24 718.28 793.99 718.79 793.75 719.3 793.52 719.75 793.33 720.25 793.12 720.76 792.92 721.27 792.73 721.78 792.55 722.29 792.38 722.8 792.22 723.25 792.08 723.76 791.93 724.27 791.79 724.78 791.66 725.29 791.53 725.8 791.42 726.31 791.3 726.75 791.21 727.26 791.11 727.77 791.01 728.28 790.92 728.79 790.84 729.3 790.77 729.75 790.71 730.26 790.64 730.77 790.58 731.28 790.52 731.78 790.47 732.29 790.41 732.8 790.36 733.25 790.32 733.76 790.27 734.27 790.22 734.78 790.18 735.29 790.13 735.8 790.08 736.24 790.04 736.75 790 737.26 789.95 737.77 789.9 738.28 789.86 738.79 789.81 739.3 789.77 739.75 789.73 740.26 789.67 740.77 789.62 741.28 789.56 741.79 789.5 742.3 789.44 742.81 789.37 743.25 789.3 743.76 789.22 744.27 789.14 744.78 789.05 745.29 788.95 745.8 788.85 746.24 788.76 746.75 788.64 747.26 788.52 747.77 788.4 748.28 788.26 748.79 788.12 749.3 787.97 749.75 787.84 750.26 787.67 750.77 787.5 751.28 787.32 751.79 787.14 752.3 786.94 752.81 786.74 753.25 786.56 753.76 786.34 754.27 786.11 754.78 785.88 755.29 785.63 755.8 785.38 756.25 785.15 756.76 784.88 757.27 784.61 757.77 784.32 758.28 784.03 758.79 783.73 759.3 783.42 759.75 783.14 760.26 782.82 760.77 782.48 761.28 782.14 761.79 781.8 762.3 781.44 762.74 781.12 763.25 780.75 763.76 780.38 764.27 779.99 764.78 779.6 765.29 779.21 765.8 778.8 766.25 778.45 766.76 778.03 767.27 777.61 767.78 777.19 768.29 776.76 768.8 776.32 769.3 775.88 769.75 775.49 770.26 775.05 770.77 774.59 771.28 774.14 771.79 773.68 772.3 773.22 772.74 772.81 773.25 772.34 773.76 771.87 774.27 771.4 774.78 770.93 775.29 770.45 775.8 769.97 776.25 769.56 776.76 769.08 777.27 768.6 777.78 768.12 778.29 767.64 778.8 767.17 779.31 766.69 779.75 766.27 780.26 765.8 780.77 765.32 781.28 764.85 781.79 764.38 782.3 763.92 782.75 763.51 783.26 763.05 783.77 762.59 784.27 762.13 784.78 761.68 785.29 761.23 785.8 760.79 786.25 760.41 786.76 759.97 787.27 759.54 787.78 759.12 788.29 758.7 788.8 758.28 789.31 757.88 789.75 757.52 790.26 757.13 790.77 756.74 791.28 756.35 791.79 755.98 792.3 755.61 792.75 755.29 793.26 754.93 793.77 754.58 794.28 754.24 794.79 753.91 795.3 753.58 795.8 753.27 796.25 753 796.76 752.7 797.27 752.4 797.78 752.12 798.29 751.85 798.8 751.58 799.24 751.36 799.75 751.11 800.26 750.87 800.77 750.64 801.28 750.42 801.79 750.21 802.3 750.01 802.75 749.84 803.26 749.66 803.77 749.49 804.28 749.33 804.79 749.18 805.3 749.03 805.81 748.9 806.25 748.8 806.76 748.69 807.27 748.59 807.78 748.5 808.29 748.42 808.8 748.35 809.25 748.3 809.76 748.25 810.26 748.19 810.77 748.12 811.28 748.05 811.79 748 812.3 747.96 812.75 747.93 813.26 747.91 813.77 747.9 814.28 747.9 814.79 747.92 815.3 747.94 815.81 747.98 816.25 748.01 816.76 748.07 817.27 748.14 817.78 748.22 818.29 748.3 818.8 748.4 819.25 748.5 819.76 748.62 820.27 748.75 820.78 748.9 821.29 749.05 821.79 749.22 822.3 749.39 822.75 749.55 823.26 749.75 823.77 749.96 824.28 750.18 824.79 750.4 825.3 750.64 825.74 750.86 826.25 751.12 826.76 751.39 827.27 751.67 827.78 751.96 828.29 752.26 828.8 752.58 829.25 752.86 829.76 753.19 830.27 753.53 830.78 753.88 831.29 754.24 831.8 754.61 832.31 754.99 832.75 755.32 833.26 755.72 833.77 756.13 834.28 756.54 834.79 756.97 835.3 757.4 835.75 757.79 836.26 758.23 836.76 758.69 837.27 759.16 837.78 759.63 838.29 760.11 838.8 760.6 839.25 761.04 839.76 761.54 840.27 762.06 840.78 762.57 841.29 763.1 841.8 763.63 842.31 764.17 842.75 764.65 843.26 765.2 843.77 765.76 844.28 766.33 844.79 766.9 845.3 767.47 845.75 767.98 846.26 768.57 846.77 769.16 847.28 769.75 847.53 770.05 847.98 770.58 848.04 770.66 848.49 771.19 848.55 771.27 849 771.8 849.25 772.11 849.5 772.42 849.95 772.96 850.01 773.04 850.46 773.58 850.52 773.66 850.97 774.21 851.03 774.29 851.48 774.84 851.54 774.92 851.99 775.47 852.24 775.79 852.5 776.11 852.94 776.67 853.01 776.75 853.45 777.31 853.52 777.39 853.96 777.96 854.03 778.04 854.47 778.6 854.54 778.69 854.98 779.25 855.05 779.34 855.49 779.91 855.75 780.23 856 780.56 856.45 781.13 856.51 781.21 856.96 781.79 857.02 781.87 857.47 782.45 857.53 782.53 857.98 783.1 858.04 783.19 858.49 783.76 858.55 783.85 859 784.42 859.25 784.75 859.51 785.09 859.95 785.66 860.02 785.75 860.46 786.33 860.53 786.41 860.97 786.99 861.03 787.07 861.48 787.65 861.54 787.73 861.99 788.31 862.25 788.64 862.5 788.98 862.95 789.55 863.01 789.64 863.46 790.22 863.52 790.3 863.97 790.88 864.03 790.96 864.47 791.54 864.54 791.62 864.98 792.2 865.05 792.28 865.49 792.85 865.75 793.18 866 793.51 866.45 794.08 866.51 794.17 866.96 794.74 867.02 794.82 867.47 795.39 867.53 795.47 867.98 796.04 868.04 796.12 868.49 796.69 868.55 796.77 869 797.34 869.25 797.66 869.51 797.99 869.95 798.55 870.02 798.63 870.46 799.19 870.53 799.27 870.97 799.83 871.04 799.91 871.48 800.47 871.55 800.55 871.99 801.1 872.25 801.42 872.5 801.74 872.95 802.29 873.01 802.37 873.46 802.91 873.52 802.99 873.97 803.54 874.03 803.62 874.48 804.16 874.54 804.24 874.99 804.78 875.05 804.86 875.5 805.4 875.75 805.7 876 806.01 876.45 806.54 876.51 806.62 876.96 807.15 877.02 807.23 877.47 807.75 877.53 807.83 877.98 808.35 878.3 808.73 878.74 809.25 879.25 809.84 879.76 810.43 880.27 811.02 880.78 811.6 881.29 812.17 881.8 812.75 882.25 813.25 882.76 813.82 883.27 814.38 883.78 814.94 884.29 815.49 884.8 816.05 885.31 816.59 885.75 817.07 886.26 817.61 886.77 818.15 887.28 818.68 887.79 819.21 888.3 819.73 888.75 820.19 889.25 820.7 889.76 821.22 890.27 821.73 890.78 822.23 891.29 822.73 891.8 823.23 892.25 823.66 892.76 824.14 893.27 824.63 893.78 825.11 894.29 825.58 894.8 826.05 895.31 826.52 895.75 826.92 896.26 827.38 896.77 827.83 897.28 828.28 897.79 828.73 898.3 829.17 898.75 829.55 899.26 829.99 899.77 830.41 900.27 830.84 900.78 831.26 901.29 831.67 901.8 832.08 902.25 832.44 902.76 832.84 903.27 833.24 903.78 833.63 904.29 834.02 904.8 834.41 905.24 834.74 905.75 835.12 906.26 835.49 906.77 835.86 907.28 836.22 907.79 836.58 908.3 836.93 908.75 837.24 909.26 837.59 909.77 837.93 910.28 838.27 910.79 838.6 911.3 838.93 911.8 839.26 912.25 839.54 912.76 839.85 913.27 840.17 913.78 840.47 914.29 840.78 914.8 841.08 915.24 841.34 915.75 841.63 916.26 841.91 916.77 842.2 917.28 842.48 917.79 842.75 918.3 843.02 918.75 843.25 919.26 843.52 919.77 843.78 920.28 844.03 920.79 844.28 921.3 844.53 921.81 844.77 922.25 844.98 922.76 845.21 923.27 845.44 923.78 845.67 924.29 845.89 924.8 846.11 925.25 846.3 925.76 846.51 926.27 846.72 926.77 846.92 927.28 847.12 927.79 847.31 928.3 847.51 928.75 847.67 929.26 847.86 929.77 848.04 930.28 848.22 930.79 848.39 931.3 848.56 931.74 848.71 932.25 848.87 932.76 849.03 933.27 849.19 933.78 849.34 934.29 849.49 934.8 849.64 935.25 849.76 935.76 849.9 936.27 850.04 936.78 850.18 937.29 850.31 937.8 850.43 938.3 850.56 938.75 850.67 939.26 850.78 939.77 850.9 940.28 851.01 940.79 851.12 941.3 851.23 941.74 851.32 942.25 851.42 942.76 851.52 943.27 851.62 943.78 851.71 944.29 851.8 944.8 851.89 945.25 851.96 945.76 852.05 946.27 852.13 946.78 852.2 947.29 852.28 947.8 852.35 948.31 852.42 948.75 852.48 949.26 852.55 949.77 852.61 950.28 852.68 950.79 852.73 951.3 852.79 951.75 852.84 952.26 852.89 952.76 852.95 953.27 852.99 953.78 853.04 954.29 853.09 954.8 853.13 955.25 853.17 955.76 853.21 956.27 853.24 956.78 853.28 957.29 853.31 957.8 853.35 958.24 853.37 958.75 853.4 959.26 853.43 959.77 853.46 960.28 853.48 960.79 853.5 961.3 853.53 961.75 853.54 962.26 853.56 962.77 853.58 963.28 853.59 963.79 853.61 964.29 853.62 964.8 853.63 965.25 853.64 965.76 853.65 966.27 853.66 966.78 853.66 967.29 853.67 967.8 853.67 968.24 853.68 968.75 853.68 969.26 853.68 969.77 853.68 970.28 853.68 970.79 853.68 971.3 853.67 971.75 853.67 972.26 853.66 972.77 853.66 973.28 853.65 973.79 853.64 974.3 853.63 974.81 853.62 975.25 853.61 975.76 853.6 976.27 853.59 976.78 853.58 977.29 853.56 977.8 853.55 978.25 853.53 978.76 853.52 979.26 853.5 979.77 853.48 980.28 853.47 980.79 853.45 981.3 853.43 981.75 853.41 982.26 853.39 982.77 853.37 983.28 853.35 983.79 853.32 984.3 853.3 984.74 853.28 985.25 853.26 985.76 853.23 986.27 853.21 986.78 853.18 987.29 853.15 987.8 853.13 988.25 853.1 988.76 853.08 989.27 853.05 989.78 853.02 990.29 852.99 990.79 852.96 991.3 852.93 991.75 852.91 992.26 852.88 992.77 852.85 993.28 852.82 993.79 852.79 994.3 852.76 994.74 852.73 995.25 852.7 995.76 852.67 996.27 852.63 996.78 852.6 997.29 852.57 997.8 852.54 998.25 852.51 998.76 852.48 999.27 852.44 999.78 852.41 1000.29 852.38 1000.8 852.34 1001.31 852.31 1001.75 852.28 1002.26 852.25 1002.77 852.21 1003.28 852.18 1003.79 852.14 1004.3 852.11 1004.75 852.08 1005.25 852.04 1005.76 852.01 1006.27 851.98 1006.78 851.94 1007.29 851.91 1007.8 851.87 1008.25 851.84 1008.76 851.81 1009.27 851.77 1009.78 851.74 1010.29 851.7 1010.8 851.67 1011.24 851.64 1011.75 851.6 1012.26 851.57 1012.77 851.53 1013.28 851.5 1013.79 851.47 1014.3 851.43 1014.75 851.4 1015.26 851.37 1015.77 851.33 1016.28 851.3 1016.78 851.27 1017.29 851.23 1017.8 851.2 1018.25 851.17 1018.76 851.13 1019.27 851.1 1019.78 851.07 1020.29 851.03 1020.8 851 1021.24 850.97 1021.75 850.94 1022.26 850.9 1022.77 850.87 1023.28 850.84 1023.79 850.81 1024.3 850.77 1024.75 850.74 1025.26 850.71 1025.77 850.68 1026.28 850.65 1026.79 850.61 1027.3 850.58 1027.81 850.55 1028.25 850.52 1028.76 850.49 1029.27 850.45 1029.78 850.42 1030.29 850.39 1030.8 850.36 1031.25 850.33 1031.75 850.3 1032.26 850.27 1032.77 850.23 1033.28 850.2 1033.79 850.17 1034.3 850.14 1034.75 850.11 1035.26 850.08 1035.77 850.04 1036.28 850.01 1036.79 849.98 1037.3 849.95 1037.81 849.91 1038.25 849.88 1038.76 849.85 1039.27 849.82 1039.78 849.78 1040.29 849.75 1040.8 849.72 1041.25 849.69 1041.76 849.65 1042.27 849.62 1042.78 849.59 1043.28 849.55 1043.79 849.52 1044.3 849.48 1044.75 849.45 1045.26 849.42 1045.77 849.38 1046.28 849.35 1046.79 849.31 1047.3 849.27 1047.74 849.24 1048.25 849.2 1048.76 849.17 1049.27 849.13 1049.78 849.09 1050.29 849.05 1050.8 849.01 1051.25 848.98 1051.76 848.94 1052.27 848.9 1052.78 848.86 1053.29 848.82 1053.8 848.77 1054.31 848.73 1054.75 848.69 1055.26 848.65 1055.77 848.61 1056.28 848.56 1056.79 848.52 1057.3 848.47 1057.74 848.43 1058.25 848.39 1058.76 848.34 1059.27 848.29 1059.78 848.24 1060.29 848.19 1060.8 848.14 1061.25 848.1 1061.76 848.04 1062.27 847.99 1062.78 847.94 1063.29 847.88 1063.8 847.83 1064.31 847.77 1064.75 847.73 1065.26 847.67 1065.77 847.61 1066.28 847.55 1066.79 847.49 1067.3 847.43 1067.75 847.38 1068.26 847.31 1068.77 847.25 1069.27 847.18 1069.78 847.12 1070.29 847.05 1070.8 846.98 1071.25 846.92 1071.76 846.85 1072.27 846.78 1072.78 846.71 1073.29 846.64 1073.8 846.57 1074.24 846.5 1074.75 846.42 1075.26 846.35 1075.77 846.27 1076.28 846.19 1076.79 846.11 1077.3 846.02 1077.75 845.95 1078.26 845.87 1078.77 845.78 1079.28 845.69 1079.79 845.6 1080.3 845.51 1080.8 845.42 1081.25 845.34 1081.76 845.25 1082.27 845.15 1082.78 845.06 1083.29 844.96 1083.8 844.86 1084.24 844.77 1084.75 844.67 1085.26 844.57 1085.77 844.46 1086.28 844.36 1086.79 844.25 1087.3 844.14 1087.75 844.04 1088.26 843.93 1088.77 843.82 1089.28 843.7 1089.79 843.59 1090.3 843.47 1090.81 843.35 1091.25 843.25 1091.76 843.12 1092.27 843 1092.78 842.87 1093.29 842.75 1093.8 842.62 1094.25 842.5 1094.76 842.37 1095.27 842.24 1095.77 842.1 1096.28 841.97 1096.79 841.83 1097.3 841.69 1097.75 841.57 1098.26 841.42 1098.77 841.28 1099.28 841.13 1099.79 840.98 1100.3 840.84 1100.74 840.7 1101.25 840.55 1101.76 840.4 1102.27 840.24 1102.78 840.08 1103.29 839.92 1103.8 839.76 1104.25 839.62 1104.76 839.46 1105.27 839.29 1105.78 839.12 1106.29 838.95 1106.8 838.78 1107.3 838.61 1107.75 838.46 1108.26 838.28 1108.77 838.1 1109.28 837.93 1109.79 837.74 1110.3 837.56 1110.74 837.4 1111.25 837.22 1111.76 837.03 1112.27 836.84 1112.78 836.65 1113.29 836.46 1113.8 836.26 1114.25 836.09 1114.76 835.89 1115.27 835.69 1115.78 835.49 1116.29 835.29 1116.8 835.09 1117.31 834.88 1117.75 834.7 1118.26 834.49 1118.77 834.28 1119.28 834.07 1119.79 833.86 1120.3 833.64 1120.75 833.45 1121.26 833.24 1121.76 833.02 1122.27 832.8 1122.78 832.57 1123.29 832.35 1123.8 832.13 1124.25 831.93 1124.76 831.7 1125.27 831.47 1125.78 831.24 1126.29 831.01 1126.8 830.77 1127.24 830.57 1127.75 830.33 1128.26 830.09 1128.77 829.85 1129.28 829.61 1129.79 829.37 1130.3 829.12 1130.75 828.91 1131.26 828.66 1131.77 828.42 1132.28 828.17 1132.79 827.92 1133.29 827.67 1133.8 827.41 1134.25 827.19 1134.76 826.94 1135.27 826.68 1135.78 826.42 1136.29 826.16 1136.8 825.9 1137.24 825.68 1137.75 825.41 1138.26 825.15 1138.77 824.89 1139.28 824.62 1139.79 824.36 1140.3 824.09 1140.75 823.86 1141.26 823.59 1141.77 823.32 1142.28 823.05 1142.79 822.77 1143.3 822.5 1143.81 822.24 1144.25 822.02 1144.76 821.76 1145.27 821.5 1145.78 821.24 1146.29 820.98 1146.8 820.72 1147.25 820.49 1147.76 820.23 1148.26 819.96 1148.77 819.7 1149.28 819.44 1149.79 819.17 1150.3 818.91 1150.75 818.68 1151.26 818.41 1151.77 818.15 1152.28 817.88 1152.79 817.62 1153.3 817.35 1153.74 817.12 1154.25 816.86 1154.76 816.59 1155.27 816.32 1155.78 816.06 1156.29 815.79 1156.8 815.53 1157.25 815.29 1157.76 815.03 1158.27 814.76 1158.78 814.49 1159.29 814.23 1159.79 813.96 1160.3 813.7 1160.75 813.46 1161.26 813.2 1161.77 812.93 1162.28 812.67 1162.79 812.4 1163.3 812.14 1163.74 811.91 1164.25 811.64 1164.76 811.38 1165.27 811.11 1165.78 810.85 1166.29 810.59 1166.8 810.33 1167.25 810.1 1167.76 809.84 1168.27 809.57 1168.78 809.31 1169.29 809.05 1169.8 808.79 1170.31 808.53 1170.75 808.31 1171.26 808.05 1171.77 807.79 1172.28 807.54 1172.79 807.28 1173.3 807.03 1173.75 806.8 1174.25 806.55 1174.76 806.3 1175.27 806.04 1175.78 805.79 1176.29 805.54 1176.8 805.29 1177.25 805.07 1177.76 804.82 1178.27 804.58 1178.78 804.33 1179.29 804.08 1179.8 803.84 1180.24 803.62 1180.75 803.38 1181.26 803.14 1181.77 802.9 1182.28 802.66 1182.79 802.42 1183.3 802.18 1183.75 801.97 1184.26 801.74 1184.77 801.5 1185.28 801.27 1185.78 801.03 1186.29 800.8 1186.8 800.57 1187.25 800.37 1187.76 800.14 1188.27 799.91 1188.78 799.69 1189.29 799.46 1189.8 799.24 1190.24 799.04 1190.75 798.82 1191.26 798.6 1191.77 798.38 1192.28 798.17 1192.79 797.95 1193.3 797.73 1193.75 797.55 1194.26 797.33 1194.77 797.12 1195.28 796.91 1195.79 796.71 1196.3 796.5 1196.81 796.29 1197.25 796.11 1197.76 795.91 1198.27 795.71 1198.78 795.51 1199.29 795.31 1199.8 795.11 1200.25 794.94 1200.75 794.74 1201.26 794.55 1201.77 794.36 1202.28 794.17 1202.79 793.98 1203.3 793.79 1203.75 793.63 1204.26 793.44 1204.77 793.26 1205.28 793.08 1205.79 792.9 1206.3 792.72 1206.74 792.56 1207.25 792.39 1207.76 792.21 1208.27 792.04 1208.78 791.87 1209.29 791.7 1209.8 791.53 1210.25 791.39 1210.76 791.22 1211.27 791.06 1211.78 790.89 1212.28 790.73 1212.79 790.57 1213.3 790.42 1213.75 790.28 1214.26 790.13 1214.77 789.97 1215.28 789.82 1215.79 789.67 1216.3 789.52 1216.74 789.39 1217.25 789.25 1217.76 789.1 1218.27 788.96 1218.78 788.82 1219.29 788.68 1219.8 788.54 1220.25 788.42 1220.76 788.29 1221.27 788.16 1221.78 788.02 1222.29 787.89 1222.8 787.77 1223.3 787.64 1223.75 787.53 1224.26 787.41 1224.77 787.28 1225.28 787.16 1225.79 787.04 1226.3 786.92 1226.74 786.82 1227.25 786.71 1227.76 786.59 1228.27 786.48 1228.78 786.37 1229.29 786.26 1229.8 786.16 1230.25 786.06 1230.76 785.96 1231.27 785.86 1231.78 785.76 1232.29 785.66 1232.8 785.56 1233.24 785.47 1233.75 785.38 1234.26 785.28 1234.77 785.19 1235.28 785.1 1235.79 785.01 1236.3 784.92 1236.75 784.85 1237.26 784.76 1237.77 784.68 1238.27 784.59 1238.78 784.51 1239.29 784.43 1239.8 784.36 1240.25 784.29 1240.76 784.21 1241.27 784.14 1241.78 784.07 1242.29 783.99 1242.8 783.93 1243.24 783.87 1243.75 783.8 1244.26 783.73 1244.77 783.67 1245.28 783.61 1245.79 783.54 1246.3 783.48 1246.75 783.43 1247.26 783.37 1247.77 783.32 1248.28 783.26 1248.79 783.21 1249.3 783.16 1249.8 783.11 1250.25 783.06 1250.76 783.01 1251.27 782.97 1251.78 782.92 1252.29 782.88 1252.8 782.83 1253.24 782.8 1253.75 782.75 1254.26 782.71 1254.77 782.68 1255.28 782.64 1255.79 782.6 1256.3 782.57 1256.75 782.54 1257.26 782.51 1257.77 782.47 1258.28 782.44 1258.79 782.42 1259.3 782.39 1259.74 782.36 1260.25 782.34 1260.76 782.31 1261.27 782.29 1261.78 782.27 1262.29 782.25 1262.8 782.23 1263.25 782.21 1263.76 782.19 1264.26 782.18 1264.77 782.16 1265.28 782.15 1265.79 782.13 1266.3 782.12 1266.75 782.11 1267.26 782.1 1267.77 782.09 1268.28 782.09 1268.79 782.08 1269.3 782.07 1269.74 782.07 1270.25 782.06 1270.76 782.06 1271.27 782.06 1271.78 782.06 1272.29 782.06 1272.8 782.06 1273.25 782.06 1273.76 782.03 1274.27 782 1274.78 781.98 1275.29 781.95 1275.79 781.93 1276.3 781.91 1276.75 781.89 1277.26 781.87 1277.77 781.85 1278.28 781.83 1278.79 781.81 1279.3 781.79 1279.74 781.78 1280.25 781.76 1280.76 781.75 1281.27 781.74 1281.78 781.72 1282.29 781.71 1282.8 781.7 1283.25 781.69 1283.76 781.68 1284.27 781.67 1284.78 781.66 1285.29 781.66 1285.8 781.65 1286.24 781.65 1286.75 781.64 1287.26 781.64 1287.77 781.63 1288.28 781.63 1288.79 781.63 1289.3 781.63 1289.75 781.63 1290.26 781.63 1290.76 781.63 1291.27 781.63 1291.78 781.63 1292.29 781.64 1292.8 781.64 1293.25 781.65 1293.76 781.65 1294.27 781.66 1294.78 781.67 1295.29 781.67 1295.8 781.68 1296.24 781.69 1296.75 781.7 1297.26 781.71 1297.77 781.72 1298.28 781.73 1298.79 781.74 1299.3 781.76 1299.75 781.77 1300.26 781.78 1300.77 781.8 1301.28 781.81 1301.79 781.83 1302.29 781.85 1302.8 781.86 1303.25 781.88 1303.76 781.9 1304.27 781.92 1304.78 781.94 1305.29 781.96 1305.8 781.98 1306.24 782 1306.75 782.02 1307.26 782.04 1307.77 782.06 1308.28 782.09 1308.79 782.11 1309.3 782.13 1309.75 782.16 1310.26 782.18 1310.77 782.21 1311.28 782.23 1311.79 782.26 1312.3 782.29 1312.81 782.32 1313.25 782.34 1313.76 782.37 1314.27 782.4 1314.78 782.43 1315.29 782.46 1315.8 782.49 1316.25 782.52 1316.75 782.55 1317.26 782.59 1317.77 782.62 1318.28 782.65 1318.79 782.68 1319.3 782.72 1319.75 782.75 1320.26 782.78 1320.77 782.82 1321.28 782.86 1321.79 782.89 1322.3 782.93 1322.74 782.96 1323.25 783 1323.76 783.04 1324.27 783.07 1324.78 783.11 1325.29 783.15 1325.8 783.19 1326.25 783.23 1326.76 783.27 1327.27 783.31 1327.78 783.35 1328.28 783.39 1328.79 783.43 1329.3 783.47 1329.75 783.51 1330.26 783.55 1330.77 783.59 1331.28 783.64 1331.79 783.68 1332.3 783.72 1332.74 783.76 1333.25 783.81 1333.76 783.85 1334.27 783.9 1334.78 783.94 1335.29 783.99 1335.8 784.03 1336.25 784.07 1336.76 784.12 1337.27 784.17 1337.78 784.21 1338.29 784.26 1338.8 784.31 1339.31 784.36 1339.75 784.4 1340.26 784.45 1340.77 784.49 1341.28 784.54 1341.79 784.59 1342.3 784.64 1342.75 784.68 1343.25 784.73 1343.76 784.78 1344.27 784.83 1344.78 784.88 1345.29 784.94 1345.8 784.99 1346.25 785.03 1346.76 785.08 1347.27 785.13 1347.78 785.19 1348.29 785.24 1348.8 785.29 1349.24 785.33 1349.75 785.39 1350.26 785.44 1350.77 785.49 1351.28 785.55 1351.79 785.6 1352.3 785.65 1352.75 785.7 1353.26 785.75 1353.77 785.81 1354.28 785.86 1354.78 785.91 1355.29 785.97 1355.8 786.02 1356.25 786.07 1356.76 786.12 1357.27 786.18 1357.78 786.23 1358.29 786.29 1358.8 786.34 1359.24 786.39 1359.75 786.45 1360.26 786.5 1360.77 786.56 1361.28 786.61 1361.79 786.67 1362.3 786.73 1362.75 786.77 1363.26 786.83 1363.77 786.89 1364.28 786.94 1364.79 787 1365.3 787.06 1365.81 787.11 1366.25 787.16 1366.76 787.22 1367.27 787.28 1367.78 787.33 1368.29 787.39 1368.8 787.45 1369.24 787.5 1369.75 787.55 1370.26 787.61 1370.77 787.67 1371.28 787.73 1371.79 787.78 1372.3 787.84 1372.75 787.89 1373.26 787.95 1373.77 788.01 1374.28 788.07 1374.79 788.12 1375.3 788.18 1375.74 788.23 1376.25 788.29 1376.76 788.35 1377.27 788.4 1377.78 788.46 1378.29 788.52 1378.8 788.58 1379.25 788.63 1379.76 788.69 1380.27 788.75 1380.77 788.8 1381.28 788.86 1381.79 788.92 1382.3 788.98 1382.75 789.03 1383.26 789.09 1383.77 789.15 1384.28 789.2 1384.79 789.26 1385.3 789.32 1385.74 789.37 1386.25 789.43 1386.76 789.49 1387.27 789.54 1387.78 789.6 1388.29 789.66 1388.8 789.72 1389.25 789.77 1389.76 789.83 1390.27 789.89 1390.78 789.94 1391.29 790 1391.8 790.06 1392.3 790.12 1392.75 790.17 1393.26 790.23 1393.77 790.28 1394.28 790.34 1394.79 790.4 1395.3 790.46 1395.74 790.51 1396.25 790.56 1396.76 790.62 1397.27 790.68 1397.78 790.74 1398.29 790.79 1398.8 790.85 1399.25 790.9 1399.76 790.96 1400.27 791.02 1400.78 791.07 1401.29 791.13 1401.8 791.19 1402.24 791.24 1402.75 791.29 1403.26 791.35 1403.77 791.41 1404.28 791.46 1404.79 791.52 1405.3 791.58 1405.75 791.63 1406.26 791.68 1406.77 791.74 1407.27 791.79 1407.78 791.85 1408.29 791.91 1408.8 791.96 1409.25 792.01 1409.76 792.07 1410.27 792.12 1410.78 792.18 1411.29 792.23 1411.8 792.29 1412.24 792.34 1412.75 792.39 1413.26 792.45 1413.77 792.5 1414.28 792.56 1414.79 792.61 1415.3 792.67 1415.75 792.71 1416.26 792.77 1416.77 792.82 1417.28 792.88 1417.79 792.93 1418.3 792.99 1418.8 793.04 1419.25 793.09 1419.76 793.14 1420.27 793.2 1420.78 793.25 1421.29 793.3 1421.8 793.36 1422.24 793.4 1422.75 793.46 1423.26 793.51 1423.77 793.56 1424.28 793.61 1424.79 793.67 1425.3 793.72 1425.75 793.76 1426.26 793.82 1426.77 793.87 1427.28 793.92 1427.79 793.97 1428.3 794.02 1428.74 794.07 1429.25 794.12 1429.76 794.17 1430.27 794.22 1430.78 794.27 1431.29 794.33 1431.8 794.38 1432.25 794.42 1432.76 794.47 1433.26 794.52 1433.77 794.57 1434.28 794.62 1434.79 794.67 1435.3 794.72 1435.75 794.77 1436.26 794.81 1436.77 794.86 1437.28 794.91 1437.79 794.96 1438.3 795.01 1438.74 795.05 1439.25 795.1 1439.76 795.15 1440.27 795.2 1440.78 795.25 1441.29 795.3 1441.8 795.34 1442.25 795.39 1442.76 795.43 1443.27 795.48 1443.78 795.53 1444.29 795.58 1444.79 795.62 1445.3 795.67 1445.75 795.71 1446.26 795.76 1446.77 795.8 1447.28 795.85 1447.79 795.9 1448.3 795.94 1448.74 795.98 1449.25 796.03 1449.76 796.07 1450.27 796.12 1450.78 796.16 1451.29 796.21 1451.8 796.25 1452.25 796.29 1452.76 796.34 1453.27 796.38 1453.78 796.42 1454.29 796.47 1454.8 796.51 1455.24 796.55 1455.75 796.59 1456.26 796.64 1456.77 796.68 1457.28 796.72 1457.79 796.76 1458.3 796.81 1458.75 796.84 1459.26 796.89 1459.76 796.93 1460.27 796.97 1460.78 797.01 1461.29 797.05 1461.8 797.1 1462.25 797.13 1462.76 797.17 1463.27 797.21 1463.78 797.25 1464.29 797.29 1464.8 797.33 1465.24 797.37 1465.75 797.41 1466.26 797.45 1466.77 797.49 1467.28 797.53 1467.79 797.57 1468.3 797.61 1468.75 797.64 1469.26 797.68 1469.77 797.72 1470.28 797.75 1470.79 797.79 1471.29 797.83 1471.8 797.87 1472.25 797.9 1472.76 797.94 1473.27 797.98 1473.78 798.01 1474.29 798.05 1474.8 798.09 1475.24 798.12 1475.75 798.15 1476.26 798.19 1476.77 798.23 1477.28 798.26 1477.79 798.3 1478.3 798.33 1478.75 798.36 1479.26 798.4 1479.77 798.43 1480.28 798.47 1480.79 798.5 1481.3 798.53 1481.74 798.56 1482.25 798.6 1482.76 798.63 1483.27 798.66 1483.78 798.7 1484.29 798.73 1484.8 798.76 1485.25 798.79 1485.75 798.82 1486.26 798.86 1486.77 798.89 1487.28 798.92 1487.79 798.95 1488.3 798.98 1488.75 799.01 1489.26 799.04 1489.77 799.07 1490.28 799.1 1490.79 799.13 1491.3 799.16 1491.74 799.19 1492.25 799.22 1492.76 799.25 1493.27 799.28 1493.78 799.31 1494.29 799.33 1494.8 799.36 1495.25 799.39 1495.76 799.42 1496.27 799.44 1496.78 799.47 1497.28 799.5 1497.79 799.53 1498.3 799.56 1498.75 799.58 1499.26 799.61 1499.77 799.63 1500.28 799.66 1500.79 799.69 1501.3 799.71 1501.74 799.73 1502.25 799.76 1502.76 799.78 1503.27 799.81 1503.78 799.84 1504.29 799.86 1504.8 799.88 1505.25 799.91 1505.76 799.93 1506.27 799.95 1506.78 799.98 1507.29 800 1507.8 800.02 1508.24 800.05 1508.75 800.07 1509.26 800.09 1509.77 800.11 1510.28 800.14 1510.79 800.16 1511.3 800.18 1511.75 800.2 1512.25 800.22 1512.76 800.24 1513.27 800.26 1513.78 800.28 1514.29 800.3 1514.8 800.32 1515.25 800.34 1515.76 800.36 1516.27 800.38 1516.78 800.4 1517.29 800.42 1517.8 800.44 1518.24 800.46 1518.75 800.48 1519.26 800.49 1519.77 800.51 1520.28 800.53 1520.79 800.55 1521.3 800.57 1521.75 800.58 1522.26 800.6 1522.77 800.62 1523.28 800.63 1523.78 800.65 1524.29 800.67 1524.8 800.68 1525.25 800.7 1525.76 800.71 1526.27 800.73 1526.78 800.74 1527.29 800.76 1527.8 800.77 1528.24 800.79 1528.75 800.8 1529.26 800.82 1529.77 800.83 1530.28 800.84 1530.79 800.86 1531.3 800.87 1531.75 800.88 1532.26 800.9 1532.77 800.91 1533.28 800.92 1533.79 800.93 1534.3 800.95 1534.74 800.96 1535.25 800.97 1535.76 800.98 1536.27 800.99 1536.78 801 1537.29 801.01 1537.8 801.02 1538.24 801.03 1538.75 801.04 1539.26 801.05 1539.77 801.06 1540.28 801.07 1540.79 801.08 1541.3 801.09 1541.75 801.1 1542.26 801.11 1542.77 801.12 1543.28 801.12 1543.79 801.13 1544.3 801.14 1544.74 801.15 1545.25 801.15 1545.76 801.16 1546.27 801.17 1546.78 801.17 1547.29 801.18 1547.8 801.19 1548.25 801.19 1548.76 801.2 1549.27 801.2 1549.77 801.21 1550.28 801.21 1550.79 801.22 1551.3 801.22 1551.75 801.23 1552.26 801.23 1552.77 801.24 1553.28 801.24 1553.79 801.24 1554.3 801.25 1554.74 801.25 1555.25 801.25 1555.76 801.26 1556.27 801.26 1556.78 801.26 1557.29 801.26 1557.8 801.27 1558.25 801.27 1558.76 801.27 1559.27 801.27 1559.78 801.27 1560.29 801.27 1560.8 801.27 1561.3 801.27 1561.75 801.27 1562.26 801.27 1562.77 801.27 1563.28 801.27 1563.79 801.27 1564.3 801.27 1564.74 801.27 1565.25 801.27 1565.76 801.27 1566.27 801.27 1566.78 801.26 1567.29 801.26 1567.8 801.26 1568.25 801.26 1568.76 801.25 1569.27 801.25 1569.78 801.25 1570.29 801.25 1570.8 801.24 1571.24 801.24 1571.75 801.23 1572.26 801.23 1572.77 801.22 1573.28 801.22 1573.79 801.21 1574.3 801.21 1574.75 801.2 1575.26 801.2 1575.77 801.19 1576.27 801.19 1576.78 801.18 1577.29 801.17 1577.8 801.17 1578.25 801.16 1578.76 801.15 1579.27 801.15 1579.78 801.14 1580.29 801.13 1580.8 801.12 1581.24 801.12 1581.75 801.11 1582.26 801.1 1582.77 801.09 1583.28 801.08 1583.79 801.07 1584.3 801.06 1584.75 801.05 1585.26 801.04 1585.77 801.03 1586.28 801.02 1586.79 801.01 1587.29 801 1587.8 800.99 1588.25 800.98 1588.76 800.97 1589.27 800.95 1589.78 800.94 1590.29 800.93 1590.8 800.92 1591.24 800.91 1591.75 800.89 1592.26 800.88 1592.77 800.87 1593.28 800.85 1593.79 800.84 1594.3 800.82 1594.75 800.81 1595.26 800.8 1595.77 800.78 1596.28 800.77 1596.79 800.75 1597.3 800.74 1597.74 800.72 1598.25 800.71 1598.76 800.69 1599.27 800.68 1599.78 800.66 1600.29 800.64 1600.8 800.63 1601.25 800.61 1601.76 800.59 1602.26 800.58 1602.77 800.56 1603.28 800.54 1603.79 800.52 1604.3 800.5 1604.75 800.49 1605.26 800.47 1605.77 800.45 1606.28 800.43 1606.79 800.41 1607.3 800.39 1607.74 800.37 1608.25 800.35 1608.76 800.33 1609.27 800.31 1609.78 800.29 1610.29 800.27 1610.8 800.25 1611.25 800.23 1611.76 800.2 1612.27 800.18 1612.78 800.16 1613.03 800.15 1613.09 800.15" stroke="#1f77b4" stroke-width="2.083" fill="none" stroke-linejoin="round" stroke-linecap="square" clip-path="url(#c1)"/>
<path d="M225.5 856.5V589.5M1620.5 856.5V589.5M225.5 856.5H1620.5M225.5 589.5H1620.5" stroke="#000" stroke-width="1.111" stroke-linecap="square" fill="none"/>
<path d="M232.5 1229.5V1234.5M462.5 1229.5V1234.5M692.5 1229.5V1234.5M922.5 1229.5V1234.5M1152.5 1229.5V1234.5M1382.5 1229.5V1234.5M1612.5 1229.5V1234.5M225.5 1222.5H220.5M225.5 1129.5H220.5M225.5 1037.5H220.5" stroke="#000" stroke-width="1.111" fill="none"/>
<path d="M1595 1185V1033M320 1190V1050M1544 1194V1080M273 1185V1071M320 1164V1052M1400 1135V1041M296 1096V1017M1394 1065V995M1355 1062V988M1408 1099V1045M1302 1076V1018M1132 1088V1043M618 1089V1027M582 1097V1027M622 1065V991M381 1157V1055" stroke="#117733" stroke-width="2.083" fill="none" clip-path="url(#c2)"/>
<path d="M434 1171V1061M441 1185V1056M429 1111V981M308 1209V1049M355 1227V1081M387 1129V1023M351 1169V1086M397 1137V1003M262 1134V1038M329 1135V1050M1588 1189V1127M331 1197V1117M1559 1159V1080M1330 1110V1026M1008 1142V1076M1001 1082V1009M1316 1115V1056M1364 1128V1058M1413 1132V1062M1446 1064V1017M1336 1057V1008M1302 1048V999M1269 1082V1038M1285 1090V1051M942 1085V1045M966 1088V1048M673 1020V979M800 1054V1006M567 1081V1007M655 1094V1020M416 1107V1055M348 1127V1072M474 1141V1028M454 1129V1067M427 1141V1077M424 1154V1080M464 1138V1059M248 1102V1010M250 1157V1068M406 1103V1009M329 1106V963M314 1223V1122M290 1183V1047M249 1140V1020M1551 1207V1085" stroke="#882255" stroke-width="2.083" fill="none" clip-path="url(#c2)"/>
<path d="M231.91 1104.91 234.21 1105.19 236.52 1105.46 238.82 1105.72 241.13 1105.97 243.44 1106.2 245.74 1106.42 248.05 1106.64 250.35 1106.84 252.66 1107.03 254.96 1107.21 257.27 1107.37 259.58 1107.53 261.88 1107.67 264.19 1107.81 266.49 1107.93 268.8 1108.03 271.1 1108.13 273.41 1108.21 275.72 1108.29 278.02 1108.35 280.33 1108.39 282.63 1108.43 284.94 1108.45 287.25 1108.46 289.55 1108.46 291.86 1108.45 294.16 1108.43 296.47 1108.39 298.77 1108.34 301.08 1108.28 303.39 1108.2 305.69 1108.12 308 1108.02 310.3 1107.91 312.61 1107.79 314.92 1107.66 317.22 1107.51 319.53 1107.36 321.83 1107.19 324.14 1107.01 326.44 1106.82 328.75 1106.61 331.06 1106.4 333.36 1106.17 335.67 1105.94 337.97 1105.69 340.28 1105.43 342.59 1105.16 344.89 1104.88 347.2 1104.59 349.5 1104.29 351.81 1103.98 354.11 1103.66 356.42 1103.32 358.73 1102.98 361.03 1102.63 363.34 1102.27 365.64 1101.9 367.95 1101.52 370.26 1101.13 372.56 1100.73 374.87 1100.33 377.17 1099.91 379.48 1099.49 381.78 1099.06 384.09 1098.62 386.4 1098.17 388.7 1097.72 391.01 1097.25 393.31 1096.78 395.62 1096.31 397.93 1095.82 400.23 1095.33 402.54 1094.84 404.84 1094.34 407.15 1093.83 409.45 1093.31 411.76 1092.79 414.07 1092.27 416.37 1091.74 418.68 1091.2 420.98 1090.66 423.29 1090.12 425.6 1089.57 427.9 1089.02 430.21 1088.47 432.51 1087.91 434.82 1087.35 437.12 1086.78 439.43 1086.22 441.74 1085.65 444.04 1085.07 446.35 1084.5 448.65 1083.93 450.96 1083.35 453.26 1082.77 455.57 1082.19 457.88 1081.62 460.18 1081.04 462.49 1080.46 464.79 1079.88 467.1 1079.3 469.41 1078.72 471.71 1078.14 474.02 1077.57 476.32 1076.99 478.63 1076.42 480.93 1075.85 483.24 1075.28 485.55 1074.72 487.85 1074.15 490.16 1073.59 492.46 1073.04 494.77 1072.48 497.08 1071.93 499.38 1071.39 501.69 1070.84 503.99 1070.31 506.3 1069.77 508.6 1069.24 510.91 1068.72 513.22 1068.2 515.52 1067.69 517.83 1067.19 520.13 1066.69 522.44 1066.19 524.75 1065.7 527.05 1065.22 529.36 1064.75 531.66 1064.28 533.97 1063.82 536.27 1063.37 538.58 1062.93 540.89 1062.49 543.19 1062.06 545.5 1061.64 547.8 1061.23 550.11 1060.83 552.42 1060.43 554.72 1060.05 557.03 1059.67 559.33 1059.3 561.64 1058.95 563.94 1058.6 566.25 1058.26 568.56 1057.93 570.86 1057.61 573.17 1057.31 575.47 1057.01 577.78 1056.72 580.09 1056.45 582.39 1056.18 584.7 1055.93 587 1055.68 589.31 1055.45 591.61 1055.23 593.92 1055.02 596.23 1054.82 598.53 1054.63 600.84 1054.46 603.14 1054.29 605.45 1054.14 607.76 1054 610.06 1053.87 612.37 1053.75 614.67 1053.65 616.98 1053.56 619.28 1053.48 621.59 1053.41 623.9 1053.35 626.2 1053.3 628.51 1053.27 630.81 1053.25 633.12 1053.24 635.43 1053.25 637.73 1053.26 640.04 1053.29 642.34 1053.33 644.65 1053.38 646.95 1053.45 649.26 1053.52 651.57 1053.61 653.87 1053.71 656.18 1053.83 658.48 1053.95 660.79 1054.09 663.09 1054.23 665.4 1054.39 667.71 1054.56 670.01 1054.75 672.32 1054.94 674.62 1055.15 676.93 1055.36 679.24 1055.59 681.54 1055.83 683.85 1056.08 686.15 1056.34 688.46 1056.62 690.76 1056.9 693.07 1057.19 695.38 1057.5 697.68 1057.81 699.99 1058.13 702.29 1058.47 704.6 1058.81 706.91 1059.17 709.21 1059.53 711.52 1059.9 713.82 1060.28 716.13 1060.67 718.43 1061.07 720.74 1061.48 723.05 1061.9 725.35 1062.33 727.66 1062.76 729.96 1063.2 732.27 1063.65 734.58 1064.11 736.88 1064.57 739.19 1065.04 741.49 1065.52 743.8 1066.01 746.1 1066.5 748.41 1066.99 750.72 1067.5 753.02 1068.01 755.33 1068.52 757.63 1069.05 759.94 1069.57 762.25 1070.1 764.55 1070.64 766.86 1071.18 769.16 1071.72 771.47 1072.27 773.77 1072.82 776.08 1073.38 778.39 1073.94 780.69 1074.5 783 1075.07 785.3 1075.63 787.61 1076.2 789.92 1076.78 792.22 1077.35 794.53 1077.93 796.83 1078.5 799.14 1079.08 801.44 1079.66 803.75 1080.24 806.06 1080.82 808.36 1081.4 810.67 1081.97 812.97 1082.55 815.28 1083.13 817.59 1083.71 819.89 1084.28 822.2 1084.86 824.5 1085.43 826.81 1086 829.11 1086.57 831.42 1087.13 833.73 1087.7 836.03 1088.25 838.34 1088.81 840.64 1089.36 842.95 1089.91 845.25 1090.46 847.56 1091 849.87 1091.54 852.17 1092.07 854.48 1092.59 856.78 1093.12 859.09 1093.63 861.4 1094.14 863.7 1094.65 866.01 1095.15 868.31 1095.64 870.62 1096.12 872.92 1096.6 875.23 1097.08 877.54 1097.54 879.84 1098 882.15 1098.45 884.45 1098.89 886.76 1099.33 889.07 1099.75 891.37 1100.17 893.68 1100.58 895.98 1100.98 898.29 1101.37 900.59 1101.76 902.9 1102.13 905.21 1102.49 907.51 1102.85 909.82 1103.2 912.12 1103.53 914.43 1103.86 916.74 1104.17 919.04 1104.48 921.35 1104.77 923.65 1105.06 925.96 1105.33 928.26 1105.59 930.57 1105.84 932.88 1106.08 935.18 1106.31 937.49 1106.53 939.79 1106.74 942.1 1106.94 944.41 1107.12 946.71 1107.29 949.02 1107.45 951.32 1107.6 953.63 1107.74 955.93 1107.87 958.24 1107.98 960.55 1108.08 962.85 1108.17 965.16 1108.25 967.46 1108.32 969.77 1108.37 972.08 1108.41 974.38 1108.44 976.69 1108.46 978.99 1108.46 981.3 1108.46 983.6 1108.44 985.91 1108.41 988.22 1108.36 990.52 1108.31 992.83 1108.24 995.13 1108.16 997.44 1108.07 999.75 1107.97 1002.05 1107.85 1004.36 1107.73 1006.66 1107.59 1008.97 1107.44 1011.27 1107.27 1013.58 1107.1 1015.89 1106.91 1018.19 1106.72 1020.5 1106.51 1022.8 1106.29 1025.11 1106.06 1027.41 1105.81 1029.72 1105.56 1032.03 1105.3 1034.33 1105.02 1036.64 1104.74 1038.94 1104.44 1041.25 1104.13 1043.56 1103.82 1045.86 1103.49 1048.17 1103.15 1050.47 1102.81 1052.78 1102.45 1055.08 1102.09 1057.39 1101.71 1059.7 1101.33 1062 1100.93 1064.31 1100.53 1066.61 1100.12 1068.92 1099.7 1071.23 1099.27 1073.53 1098.84 1075.84 1098.4 1078.14 1097.94 1080.45 1097.49 1082.75 1097.02 1085.06 1096.55 1087.37 1096.07 1089.67 1095.58 1091.98 1095.09 1094.28 1094.59 1096.59 1094.08 1098.9 1093.57 1101.2 1093.05 1103.51 1092.53 1105.81 1092 1108.12 1091.47 1110.42 1090.93 1112.73 1090.39 1115.04 1089.85 1117.34 1089.3 1119.65 1088.74 1121.95 1088.19 1124.26 1087.63 1126.57 1087.06 1128.87 1086.5 1131.18 1085.93 1133.48 1085.36 1135.79 1084.79 1138.09 1084.21 1140.4 1083.64 1142.71 1083.06 1145.01 1082.48 1147.32 1081.9 1149.62 1081.33 1151.93 1080.75 1154.24 1080.17 1156.54 1079.59 1158.85 1079.01 1161.15 1078.43 1163.46 1077.86 1165.76 1077.28 1168.07 1076.71 1170.38 1076.14 1172.68 1075.57 1174.99 1075 1177.29 1074.43 1179.6 1073.87 1181.91 1073.31 1184.21 1072.76 1186.52 1072.21 1188.82 1071.66 1191.13 1071.11 1193.43 1070.57 1195.74 1070.04 1198.05 1069.51 1200.35 1068.98 1202.66 1068.46 1204.96 1067.95 1207.27 1067.44 1209.57 1066.93 1211.88 1066.44 1214.19 1065.95 1216.49 1065.46 1218.8 1064.98 1221.1 1064.51 1223.41 1064.05 1225.72 1063.6 1228.02 1063.15 1230.33 1062.71 1232.63 1062.27 1234.94 1061.85 1237.24 1061.43 1239.55 1061.03 1241.86 1060.63 1244.16 1060.24 1246.47 1059.86 1248.77 1059.49 1251.08 1059.12 1253.39 1058.77 1255.69 1058.43 1258 1058.09 1260.3 1057.77 1262.61 1057.46 1264.91 1057.16 1267.22 1056.86 1269.53 1056.58 1271.83 1056.31 1274.14 1056.05 1276.44 1055.8 1278.75 1055.56 1281.06 1055.34 1283.36 1055.12 1285.67 1054.92 1287.97 1054.72 1290.28 1054.54 1292.58 1054.37 1294.89 1054.22 1297.2 1054.07 1299.5 1053.93 1301.81 1053.81 1304.11 1053.7 1306.42 1053.6 1308.73 1053.51 1311.03 1053.44 1313.34 1053.38 1315.64 1053.33 1317.95 1053.29 1320.25 1053.26 1322.56 1053.25 1324.87 1053.24 1327.17 1053.25 1329.48 1053.27 1331.78 1053.31 1334.09 1053.36 1336.4 1053.41 1338.7 1053.48 1341.01 1053.57 1343.31 1053.66 1345.62 1053.77 1347.92 1053.89 1350.23 1054.02 1352.54 1054.16 1354.84 1054.31 1357.15 1054.48 1359.45 1054.65 1361.76 1054.84 1364.07 1055.04 1366.37 1055.25 1368.68 1055.48 1370.98 1055.71 1373.29 1055.96 1375.59 1056.21 1377.9 1056.48 1380.21 1056.76 1382.51 1057.04 1384.82 1057.34 1387.12 1057.65 1389.43 1057.97 1391.74 1058.3 1394.04 1058.64 1396.35 1058.99 1398.65 1059.35 1400.96 1059.71 1403.26 1060.09 1405.57 1060.48 1407.88 1060.87 1410.18 1061.28 1412.49 1061.69 1414.79 1062.11 1417.1 1062.54 1419.4 1062.98 1421.71 1063.42 1424.02 1063.88 1426.32 1064.34 1428.63 1064.81 1430.93 1065.28 1433.24 1065.76 1435.55 1066.25 1437.85 1066.74 1440.16 1067.25 1442.46 1067.75 1444.77 1068.27 1447.07 1068.78 1449.38 1069.31 1451.69 1069.84 1453.99 1070.37 1456.3 1070.91 1458.6 1071.45 1460.91 1072 1463.22 1072.55 1465.52 1073.1 1467.83 1073.66 1470.13 1074.22 1472.44 1074.78 1474.74 1075.35 1477.05 1075.92 1479.36 1076.49 1481.66 1077.06 1483.97 1077.64 1486.27 1078.21 1488.58 1078.79 1490.89 1079.37 1493.19 1079.95 1495.5 1080.53 1497.8 1081.11 1500.11 1081.68 1502.41 1082.26 1504.72 1082.84 1507.03 1083.42 1509.33 1084 1511.64 1084.57 1513.94 1085.14 1516.25 1085.71 1518.56 1086.28 1520.86 1086.85 1523.17 1087.41 1525.47 1087.98 1527.78 1088.53 1530.08 1089.09 1532.39 1089.64 1534.7 1090.19 1537 1090.73 1539.31 1091.27 1541.61 1091.8 1543.92 1092.33 1546.23 1092.86 1548.53 1093.37 1550.84 1093.89 1553.14 1094.4 1555.45 1094.9 1557.75 1095.39 1560.06 1095.88 1562.37 1096.37 1564.67 1096.84 1566.98 1097.31 1569.28 1097.77 1571.59 1098.23 1573.9 1098.67 1576.2 1099.11 1578.51 1099.54 1580.81 1099.96 1583.12 1100.38 1585.42 1100.78 1587.73 1101.18 1590.04 1101.57 1592.34 1101.94 1594.65 1102.31 1596.95 1102.67 1599.26 1103.02 1601.56 1103.36 1603.87 1103.69 1606.18 1104.01 1608.48 1104.33 1610.79 1104.62 1613.09 1104.91" stroke="#1f77b4" stroke-width="2.083" fill="none" stroke-linejoin="round" stroke-linecap="square" clip-path="url(#c2)"/>
<g fill="#117733" clip-path="url(#c2)"><circle cx="1595.5" cy="1109.5" r="4.167"/><circle cx="320.5" cy="1120.5" r="4.167"/><circle cx="1544.5" cy="1137.5" r="4.167"/><circle cx="273.5" cy="1128.5" r="4.167"/><circle cx="320.5" cy="1108.5" r="4.167"/><circle cx="1400.5" cy="1088.5" r="4.167"/><circle cx="296.5" cy="1057.5" r="4.167"/><circle cx="1394.5" cy="1030.5" r="4.167"/><circle cx="1355.5" cy="1025.5" r="4.167"/><circle cx="1408.5" cy="1072.5" r="4.167"/><circle cx="1302.5" cy="1047.5" r="4.167"/><circle cx="1132.5" cy="1066.5" r="4.167"/><circle cx="618.5" cy="1058.5" r="4.167"/><circle cx="582.5" cy="1062.5" r="4.167"/><circle cx="622.5" cy="1028.5" r="4.167"/><circle cx="381.5" cy="1106.5" r="4.167"/></g>
<g fill="#882255" clip-path="url(#c2)"><circle cx="434.5" cy="1116.5" r="4.167"/><circle cx="441.5" cy="1121.5" r="4.167"/><circle cx="429.5" cy="1046.5" r="4.167"/><circle cx="308.5" cy="1129.5" r="4.167"/><circle cx="355.5" cy="1154.5" r="4.167"/><circle cx="387.5" cy="1076.5" r="4.167"/><circle cx="351.5" cy="1128.5" r="4.167"/><circle cx="397.5" cy="1070.5" r="4.167"/><circle cx="262.5" cy="1086.5" r="4.167"/><circle cx="329.5" cy="1092.5" r="4.167"/><circle cx="1588.5" cy="1158.5" r="4.167"/><circle cx="331.5" cy="1157.5" r="4.167"/><circle cx="1559.5" cy="1119.5" r="4.167"/><circle cx="1330.5" cy="1068.5" r="4.167"/><circle cx="1008.5" cy="1109.5" r="4.167"/><circle cx="1001.5" cy="1046.5" r="4.167"/><circle cx="1316.5" cy="1086.5" r="4.167"/><circle cx="1364.5" cy="1093.5" r="4.167"/><circle cx="1413.5" cy="1097.5" r="4.167"/><circle cx="1446.5" cy="1040.5" r="4.167"/><circle cx="1336.5" cy="1033.5" r="4.167"/><circle cx="1302.5" cy="1023.5" r="4.167"/><circle cx="1269.5" cy="1060.5" r="4.167"/><circle cx="1285.5" cy="1070.5" r="4.167"/><circle cx="942.5" cy="1065.5" r="4.167"/><circle cx="966.5" cy="1068.5" r="4.167"/><circle cx="673.5" cy="999.5" r="4.167"/><circle cx="800.5" cy="1030.5" r="4.167"/><circle cx="567.5" cy="1044.5" r="4.167"/><circle cx="655.5" cy="1057.5" r="4.167"/><circle cx="416.5" cy="1081.5" r="4.167"/><circle cx="348.5" cy="1100.5" r="4.167"/><circle cx="474.5" cy="1085.5" r="4.167"/><circle cx="454.5" cy="1098.5" r="4.167"/><circle cx="427.5" cy="1109.5" r="4.167"/><circle cx="424.5" cy="1117.5" r="4.167"/><circle cx="464.5" cy="1098.5" r="4.167"/><circle cx="248.5" cy="1056.5" r="4.167"/><circle cx="250.5" cy="1113.5" r="4.167"/><circle cx="406.5" cy="1056.5" r="4.167"/><circle cx="329.5" cy="1035.5" r="4.167"/><circle cx="314.5" cy="1173.5" r="4.167"/><circle cx="290.5" cy="1115.5" r="4.167"/><circle cx="249.5" cy="1080.5" r="4.167"/><circle cx="1551.5" cy="1146.5" r="4.167"/></g>
<path d="M225.5 1229.5V962.5M1620.5 1229.5V962.5M225.5 1229.5H1620.5M225.5 962.5H1620.5" stroke="#000" stroke-width="1.111" stroke-linecap="square" fill="none"/>
<path d="M362.5 1602.5V1607.5M644.5 1602.5V1607.5M926.5 1602.5V1607.5M1209.5 1602.5V1607.5M1491.5 1602.5V1607.5M225.5 1569.5H220.5M225.5 1478.5H220.5M225.5 1387.5H220.5" stroke="#000" stroke-width="1.111" fill="none"/>
<path d="M401 1560V1410M413 1559V1421M565 1578V1466M582 1554V1442M599 1535V1423M717 1553V1461M802 1466V1388M926 1485V1415M949 1485V1412M943 1516V1462M960 1499V1442M1027 1480V1436M1201 1513V1452M1207 1518V1449M1230 1490V1416M1280 1535V1434" stroke="#117733" stroke-width="2.083" fill="none" clip-path="url(#c3)"/>
<path d="M232 1560V1452M271 1576V1450M288 1500V1372M305 1577V1420M339 1600V1456M401 1509V1405M418 1542V1461M458 1518V1386M565 1503V1408M582 1506V1422M599 1565V1503M627 1567V1488M683 1541V1463M802 1534V1450M801 1511V1447M807 1451V1380M819 1539V1481M836 1550V1481M836 1546V1477M858 1473V1427M932 1482V1434M937 1472V1424M948 1503V1460M943 1512V1474M959 1457V1418M959 1457V1418M998 1443V1402M1027 1453V1405M1122 1501V1427M1179 1517V1445M1201 1493V1442M1201 1500V1446M1212 1541V1429M1229 1523V1462M1229 1529V1466M1229 1541V1469M1241 1534V1457M1263 1473V1382M1263 1528V1440M1280 1486V1393M1297 1477V1337M1297 1591V1493M1427 1551V1417M1461 1511V1393M1613 1590V1470" stroke="#882255" stroke-width="2.083" fill="none" clip-path="url(#c3)"/>
<path d="M225 1478H1620" stroke="#000" stroke-width="2.083" stroke-dasharray="7.708 3.333" fill="none" clip-path="url(#c3)"/>
<g fill="#117733" clip-path="url(#c3)"><circle cx="401.5" cy="1485.5" r="4.167"/><circle cx="413.5" cy="1490.5" r="4.167"/><circle cx="565.5" cy="1522.5" r="4.167"/><circle cx="582.5" cy="1498.5" r="4.167"/><circle cx="599.5" cy="1479.5" r="4.167"/><circle cx="717.5" cy="1507.5" r="4.167"/><circle cx="802.5" cy="1427.5" r="4.167"/><circle cx="926.5" cy="1450.5" r="4.167"/><circle cx="949.5" cy="1449.5" r="4.167"/><circle cx="943.5" cy="1489.5" r="4.167"/><circle cx="960.5" cy="1471.5" r="4.167"/><circle cx="1027.5" cy="1458.5" r="4.167"/><circle cx="1201.5" cy="1483.5" r="4.167"/><circle cx="1207.5" cy="1484.5" r="4.167"/><circle cx="1230.5" cy="1453.5" r="4.167"/><circle cx="1280.5" cy="1485.5" r="4.167"/></g>
<g fill="#882255" clip-path="url(#c3)"><circle cx="232.5" cy="1506.5" r="4.167"/><circle cx="271.5" cy="1513.5" r="4.167"/><circle cx="288.5" cy="1436.5" r="4.167"/><circle cx="305.5" cy="1499.5" r="4.167"/><circle cx="339.5" cy="1528.5" r="4.167"/><circle cx="401.5" cy="1457.5" r="4.167"/><circle cx="418.5" cy="1502.5" r="4.167"/><circle cx="458.5" cy="1452.5" r="4.167"/><circle cx="565.5" cy="1456.5" r="4.167"/><circle cx="582.5" cy="1464.5" r="4.167"/><circle cx="599.5" cy="1534.5" r="4.167"/><circle cx="627.5" cy="1528.5" r="4.167"/><circle cx="683.5" cy="1502.5" r="4.167"/><circle cx="802.5" cy="1492.5" r="4.167"/><circle cx="801.5" cy="1479.5" r="4.167"/><circle cx="807.5" cy="1416.5" r="4.167"/><circle cx="819.5" cy="1510.5" r="4.167"/><circle cx="836.5" cy="1516.5" r="4.167"/><circle cx="836.5" cy="1512.5" r="4.167"/><circle cx="858.5" cy="1450.5" r="4.167"/><circle cx="932.5" cy="1458.5" r="4.167"/><circle cx="937.5" cy="1448.5" r="4.167"/><circle cx="948.5" cy="1482.5" r="4.167"/><circle cx="943.5" cy="1493.5" r="4.167"/><circle cx="959.5" cy="1438.5" r="4.167"/><circle cx="959.5" cy="1438.5" r="4.167"/><circle cx="998.5" cy="1423.5" r="4.167"/><circle cx="1027.5" cy="1429.5" r="4.167"/><circle cx="1122.5" cy="1464.5" r="4.167"/><circle cx="1179.5" cy="1481.5" r="4.167"/><circle cx="1201.5" cy="1468.5" r="4.167"/><circle cx="1201.5" cy="1473.5" r="4.167"/><circle cx="1212.5" cy="1485.5" r="4.167"/><circle cx="1229.5" cy="1493.5" r="4.167"/><circle cx="1229.5" cy="1498.5" r="4.167"/><circle cx="1229.5" cy="1505.5" r="4.167"/><circle cx="1241.5" cy="1496.5" r="4.167"/><circle cx="1263.5" cy="1428.5" r="4.167"/><circle cx="1263.5" cy="1484.5" r="4.167"/><circle cx="1280.5" cy="1440.5" r="4.167"/><circle cx="1297.5" cy="1407.5" r="4.167"/><circle cx="1297.5" cy="1542.5" r="4.167"/><circle cx="1427.5" cy="1484.5" r="4.167"/><circle cx="1461.5" cy="1452.5" r="4.167"/><circle cx="1613.5" cy="1530.5" r="4.167"/></g>
<path d="M225.5 1602.5V1335.5M1620.5 1602.5V1335.5M225.5 1602.5H1620.5M225.5 1335.5H1620.5" stroke="#000" stroke-width="1.111" stroke-linecap="square" fill="none"/>
<g style="will-change:opacity;opacity:0.999"><text id="t0" x="362.25" y="517.59" font-size="33.33" text-anchor="middle">750</text>
<text id="t1" x="644.2" y="517.59" font-size="33.33" text-anchor="middle">800</text>
<text id="t2" x="926.4" y="517.59" font-size="33.33" text-anchor="middle">850</text>
<text id="t3" x="1208.1" y="517.59" font-size="33.33" text-anchor="middle">900</text>
<text id="t4" x="1490.3" y="517.59" font-size="33.33" text-anchor="middle">950</text>
<text id="t5" x="921.75" y="557.4" font-size="33.33" text-anchor="middle">Julian Date</text>
<text id="t6" x="1619" y="555.02" font-size="33.33" text-anchor="end">+2.4580000000e6</text>
<text id="t7" x="215.03" y="487.96" font-size="33.33" text-anchor="end">14.25</text>
<text id="t8" x="215.03" y="395.76" font-size="33.33" text-anchor="end">14.50</text>
<text id="t9" x="215.03" y="303.56" font-size="33.33" text-anchor="end">14.75</text>
<text id="t10" x="106.36" y="350.02" font-size="33.33" text-anchor="middle" transform="rotate(-90 106.36 350.02)">H (mag)</text>
<text id="t11" x="231.6" y="890.74" font-size="33.33" text-anchor="middle">0</text>
<text id="t12" x="507.7" y="890.74" font-size="33.33" text-anchor="middle">1000</text>
<text id="t13" x="783.8" y="890.74" font-size="33.33" text-anchor="middle">2000</text>
<text id="t14" x="1059.65" y="890.74" font-size="33.33" text-anchor="middle">3000</text>
<text id="t15" x="1336.75" y="890.74" font-size="33.33" text-anchor="middle">4000</text>
<text id="t16" x="1612.59" y="890.74" font-size="33.33" text-anchor="middle">5000</text>
<text id="t17" x="922" y="929.56" font-size="33.33" text-anchor="middle">Rotational Period (Hours)</text>
<text id="t18" x="214.78" y="867.04" font-size="33.33" text-anchor="end">0.0</text>
<text id="t19" x="214.78" y="693.27" font-size="33.33" text-anchor="end">0.2</text>
<text id="t20" x="147.78" y="723.67" font-size="33.33" text-anchor="middle" transform="rotate(-90 147.78 723.67)">L-S Power</text>
<text id="t21" x="922.47" y="615.8" font-size="33.33" text-anchor="start">Period: 12.012 h</text>
<text id="t22" x="232.66" y="1264.9" font-size="33.33" text-anchor="middle">0</text>
<text id="t23" x="462.62" y="1264.9" font-size="33.33" text-anchor="middle">2</text>
<text id="t24" x="692.59" y="1264.9" font-size="33.33" text-anchor="middle">4</text>
<text id="t25" x="922.56" y="1264.9" font-size="33.33" text-anchor="middle">6</text>
<text id="t26" x="1151.53" y="1264.9" font-size="33.33" text-anchor="middle">8</text>
<text id="t27" x="1381.75" y="1264.9" font-size="33.33" text-anchor="middle">10</text>
<text id="t28" x="1611.96" y="1264.9" font-size="33.33" text-anchor="middle">12</text>
<text id="t29" x="923" y="1302.71" font-size="33.33" text-anchor="middle">Phase (hours)</text>
<text id="t30" x="215.03" y="1235.27" font-size="33.33" text-anchor="end">14.25</text>
<text id="t31" x="215.03" y="1142.07" font-size="33.33" text-anchor="end">14.50</text>
<text id="t32" x="215.03" y="1049.87" font-size="33.33" text-anchor="end">14.75</text>
<text id="t33" x="106.11" y="1097.08" font-size="33.33" text-anchor="middle" transform="rotate(-90 106.11 1097.08)">H (mag)</text>
<text id="t34" x="362.25" y="1638.05" font-size="33.33" text-anchor="middle">750</text>
<text id="t35" x="644.2" y="1638.05" font-size="33.33" text-anchor="middle">800</text>
<text id="t36" x="926.4" y="1638.05" font-size="33.33" text-anchor="middle">850</text>
<text id="t37" x="1208.1" y="1638.05" font-size="33.33" text-anchor="middle">900</text>
<text id="t38" x="1490.3" y="1638.05" font-size="33.33" text-anchor="middle">950</text>
<text id="t39" x="921.75" y="1675.87" font-size="33.33" text-anchor="middle">Julian Date</text>
<text id="t40" x="1619" y="1675.48" font-size="33.33" text-anchor="end">+2.4580000000e6</text>
<text id="t41" x="214.53" y="1581.56" font-size="33.33" text-anchor="end">−0.25</text>
<text id="t42" x="214.78" y="1490.66" font-size="33.33" text-anchor="end">0.00</text>
<text id="t43" x="215.03" y="1399.76" font-size="33.33" text-anchor="end">0.25</text>
<text id="t44" x="101.64" y="1473.73" font-size="33.33" text-anchor="middle" transform="rotate(-90 101.64 1473.73)">Residuals</text>
<text id="t45" x="899.75" y="67.39" font-size="40" text-anchor="middle">49300 Light Curve Plots</text></g>
</svg>
</body></html>
